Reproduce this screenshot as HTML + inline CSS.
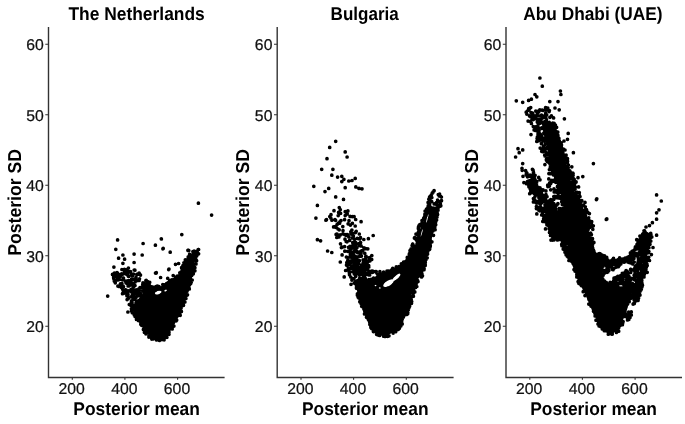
<!DOCTYPE html>
<html lang="en">
<head>
<meta charset="utf-8">
<title>Posterior mean vs posterior SD</title>
<style>
html,body{margin:0;padding:0;background:#fff;}
body{width:685px;height:424px;overflow:hidden;}
svg{display:block;}
text{font-family:"Liberation Sans",Arial,Helvetica,sans-serif;text-rendering:geometricPrecision;}
.tk{font-size:15.75px;fill:#111;stroke:#111;stroke-width:0.25;}
.lb{font-size:17.4px;font-weight:bold;fill:#000;}
.lb.yl{font-size:17.65px;}
.ax{fill:none;stroke:#333;stroke-width:1.4;}
.tc{fill:none;stroke:#333;stroke-width:1.1;}
.pt{fill:none;stroke:#000;stroke-width:3.70;stroke-linecap:round;}
</style>
</head>
<body>
<svg width="685" height="424" viewBox="0 0 685 424">
<rect width="685" height="424" fill="#fff"/>
<g fill="#000" stroke="none">
<path d="M144.0 283.0L148.8 284.5L158.3 287.5L167.8 283.5L176.5 277.0L183.0 268.0L187.0 258.0L190.0 254.0L195.0 259.0L194.5 268.0L190.0 285.0L185.0 300.0L180.0 313.0L174.0 325.5L168.0 334.5L162.5 339.5L157.3 340.8L153.5 339.5L150.0 336.5L143.5 329.5L138.0 320.0L133.5 311.0L135.0 303.0L142.0 295.0Z"/>
</g>
<ellipse cx="158.2" cy="292.6" rx="3.4" ry="1.6" fill="#fff" transform="rotate(-17.2 158.2 292.6)"/>
<ellipse cx="165.6" cy="290.5" rx="1.3" ry="0.9" fill="#fff" transform="rotate(-22.9 165.6 290.5)"/>
<path class="pt" d="M186.0 278.3h0M166.6 283.5h0M195.5 259.0h0M156.6 332.9h0M168.3 319.1h0M143.6 299.2h0M184.7 272.1h0M189.4 270.6h0M184.3 302.2h0M140.3 305.3h0M164.1 339.8h0M153.3 313.7h0M181.4 295.3h0M131.4 308.8h0M150.3 307.3h0M157.1 339.2h0M141.4 322.1h0M176.9 302.3h0M165.4 298.9h0M170.4 324.8h0M156.0 324.1h0M144.4 332.3h0M175.6 298.8h0M144.8 289.0h0M176.5 280.8h0M140.9 308.3h0M190.9 281.2h0M147.9 300.6h0M176.6 313.0h0M184.1 274.7h0M163.9 303.9h0M153.5 316.5h0M176.0 287.9h0M179.7 295.2h0M151.7 336.2h0M175.3 308.7h0M152.0 334.4h0M185.5 272.1h0M135.1 298.4h0M183.6 282.2h0M141.7 303.6h0M147.3 330.2h0M133.6 299.6h0M166.3 311.7h0M156.3 299.3h0M165.0 305.3h0M182.9 265.7h0M152.3 326.5h0M149.4 325.0h0M136.0 303.1h0M195.1 259.5h0M142.9 319.9h0M138.6 305.3h0M138.4 318.7h0M140.9 323.5h0M181.9 302.7h0M143.1 285.0h0M176.3 312.2h0M167.2 311.1h0M153.3 287.7h0M176.0 289.7h0M148.7 303.2h0M139.2 318.3h0M167.8 309.7h0M163.9 317.6h0M141.4 308.7h0M142.4 302.8h0M183.8 273.9h0M167.3 324.0h0M183.1 281.1h0M136.2 307.2h0M142.0 287.1h0M175.8 287.9h0M173.2 318.3h0M165.4 311.8h0M192.6 265.3h0M157.2 316.0h0M156.5 287.0h0M172.9 319.3h0M143.4 308.3h0M171.8 279.9h0M169.9 293.1h0M151.8 287.0h0M153.7 314.7h0M167.6 334.3h0M183.9 262.8h0M181.0 272.0h0M163.3 296.3h0M190.0 280.3h0M176.1 320.8h0M169.0 311.2h0M134.1 314.3h0M175.1 297.1h0M146.2 329.9h0M193.2 254.9h0M183.7 272.2h0M154.0 304.5h0M175.1 298.6h0M152.3 337.4h0M160.8 301.9h0M191.3 263.2h0M175.9 302.2h0M145.3 315.9h0M164.0 284.8h0M184.4 267.7h0M174.4 305.1h0M184.0 288.9h0M164.3 325.5h0M180.1 309.8h0M174.4 302.5h0M183.5 305.3h0M145.8 285.3h0M170.9 292.5h0M160.9 305.2h0M152.0 297.7h0M184.5 269.9h0M136.4 310.3h0M186.2 260.0h0M192.1 274.8h0M186.3 278.3h0M150.4 294.2h0M174.1 309.5h0M164.4 329.9h0M176.0 283.8h0M185.8 284.8h0M166.9 310.9h0M154.3 334.2h0M160.0 301.3h0M173.9 326.1h0M156.5 328.2h0M156.5 301.4h0M145.9 280.6h0M162.0 318.6h0M146.2 280.3h0M183.0 282.8h0M176.4 300.0h0M176.5 282.0h0M159.9 339.7h0M179.3 304.0h0M157.5 314.4h0M144.3 283.4h0M149.9 326.7h0M194.9 259.5h0M175.8 291.3h0M174.6 312.5h0M137.2 305.0h0M149.7 282.3h0M163.9 338.8h0M170.9 280.5h0M135.8 316.7h0M150.5 291.0h0M173.7 283.0h0M154.6 290.2h0M172.9 302.3h0M151.4 323.2h0M163.2 303.2h0M146.0 295.9h0M153.1 316.5h0M169.5 322.0h0M164.0 302.9h0M169.3 325.3h0M150.2 327.9h0M169.1 302.2h0M141.4 315.2h0M194.5 268.5h0M157.7 336.1h0M156.6 340.0h0M165.8 310.2h0M188.5 270.6h0M149.0 336.0h0M189.7 259.0h0M189.9 260.7h0M166.9 337.3h0M191.1 265.7h0M163.3 315.2h0M173.8 306.5h0M173.8 287.8h0M150.4 292.9h0M153.8 328.1h0M132.1 303.1h0M153.8 291.0h0M168.4 282.6h0M188.8 268.8h0M166.1 324.3h0M178.3 306.9h0M188.7 258.6h0M176.2 287.1h0M154.6 297.2h0M187.4 276.9h0M144.7 310.5h0M181.4 311.4h0M154.4 334.9h0M160.7 326.9h0M144.5 330.7h0M184.4 274.2h0M187.8 274.0h0M147.6 281.7h0M180.9 284.0h0M144.8 304.9h0M158.7 309.6h0M152.7 316.5h0M193.9 257.4h0M185.0 262.4h0M179.9 298.4h0M151.5 332.3h0M169.8 280.6h0M177.2 278.0h0M160.0 329.4h0M166.0 334.1h0M156.0 286.5h0M149.3 290.0h0M186.9 269.5h0M170.6 301.2h0M172.2 312.1h0M183.2 297.1h0M192.4 264.9h0M131.5 310.9h0M167.0 334.1h0M147.4 303.0h0M163.6 302.2h0M146.6 287.9h0M149.1 297.0h0M186.4 264.4h0M158.6 313.0h0M165.0 318.7h0M169.3 307.5h0M168.9 291.7h0M176.0 288.2h0M135.9 312.3h0M186.0 270.1h0M183.5 289.3h0M131.0 305.4h0M149.5 326.9h0M189.2 277.9h0M163.6 302.9h0M142.7 284.4h0M136.9 309.5h0M151.8 339.1h0M183.4 301.1h0M172.9 288.8h0M146.7 326.3h0M136.5 319.5h0M170.4 318.9h0M179.6 302.9h0M154.5 328.5h0M140.8 313.9h0M159.1 301.3h0M156.8 301.6h0M153.5 305.1h0M143.5 322.2h0M143.0 302.8h0M148.2 283.9h0M182.0 291.6h0M149.1 284.4h0M146.3 323.5h0M192.0 268.5h0M184.7 285.4h0M157.8 297.5h0M141.3 299.2h0M167.3 318.5h0M149.6 286.3h0M194.9 267.7h0M184.3 267.1h0M159.5 301.2h0M153.3 328.6h0M142.7 290.8h0M155.1 298.4h0M168.5 292.6h0M148.1 317.2h0M137.6 307.6h0M176.1 302.0h0M154.9 316.1h0M189.7 284.5h0M164.6 333.5h0M146.0 292.5h0M167.1 323.8h0M189.3 288.9h0M147.3 322.0h0M177.3 276.0h0M182.2 305.5h0M132.3 312.7h0M136.1 309.4h0M179.6 313.7h0M147.6 293.1h0M166.0 287.5h0M188.9 269.8h0M135.6 315.3h0M185.2 290.1h0M161.2 326.7h0M149.5 301.8h0M186.9 264.6h0M146.4 317.1h0M149.6 298.8h0M131.5 300.9h0M160.3 326.5h0M140.5 293.8h0M191.6 275.4h0M146.6 322.8h0M189.0 277.6h0M175.4 302.2h0M142.2 296.2h0M149.6 336.1h0M183.3 298.9h0M161.7 319.0h0M166.3 327.0h0M158.9 329.1h0M175.9 277.4h0M158.0 338.8h0M144.0 301.1h0M176.7 278.8h0M173.9 279.7h0M155.5 326.7h0M179.9 279.7h0M133.4 310.0h0M157.4 331.3h0M187.3 269.6h0M145.3 307.7h0M147.3 295.8h0M165.1 287.1h0M134.3 315.0h0M160.5 287.9h0M168.7 312.0h0M150.3 333.7h0M176.1 279.2h0M187.5 263.2h0M167.6 283.4h0M145.9 318.2h0M186.7 260.4h0M155.6 289.9h0M180.0 314.6h0M190.5 278.5h0M174.0 311.9h0M143.3 321.2h0M182.9 276.7h0M187.4 281.3h0M148.7 303.0h0M170.7 293.9h0M164.6 332.8h0M155.7 286.8h0M176.3 280.4h0M159.4 299.8h0M158.3 287.7h0M141.1 302.1h0M155.7 332.5h0M152.1 300.0h0M182.9 278.1h0M158.4 323.2h0M192.9 256.9h0M164.1 314.4h0M187.5 294.8h0M179.2 304.4h0M140.8 324.3h0M177.1 281.1h0M158.3 319.7h0M180.3 277.6h0M167.8 317.3h0M139.5 293.8h0M164.9 318.5h0M153.2 339.0h0M175.6 317.1h0M133.3 307.6h0M143.7 286.9h0M182.5 273.6h0M172.3 313.3h0M192.0 267.8h0M155.3 323.3h0M163.1 287.4h0M163.0 293.7h0M171.9 315.4h0M184.8 290.9h0M166.8 311.1h0M157.1 304.3h0M152.3 312.8h0M141.4 300.1h0M157.7 309.8h0M167.8 315.9h0M189.0 282.4h0M167.1 296.0h0M137.8 315.5h0M162.6 329.7h0M182.0 289.8h0M167.3 333.0h0M162.3 327.1h0M160.8 335.0h0M161.2 312.1h0M143.8 319.9h0M169.0 315.0h0M180.9 274.3h0M188.9 287.1h0M176.1 292.5h0M160.5 288.3h0M161.8 332.5h0M183.8 279.1h0M169.5 309.2h0M178.6 308.7h0M183.4 274.9h0M144.1 298.5h0M170.4 315.8h0M138.9 300.6h0M156.1 299.9h0M153.3 310.8h0M176.1 319.6h0M158.9 338.5h0M156.4 299.4h0M172.3 320.7h0M147.2 286.5h0M146.6 309.8h0M179.6 293.8h0M180.1 273.4h0M172.0 324.0h0M150.7 332.8h0M195.3 257.3h0M175.9 277.1h0M160.7 331.2h0M143.0 300.6h0M149.2 294.3h0M174.1 302.4h0M177.0 288.4h0M189.4 259.6h0M190.7 283.6h0M153.0 326.7h0M190.6 256.1h0M175.6 318.1h0M160.4 310.7h0M169.0 291.6h0M136.6 301.0h0M163.4 285.8h0M163.4 319.2h0M148.6 327.3h0M174.2 315.9h0M173.3 288.7h0M157.3 311.0h0M141.6 296.6h0M191.3 267.8h0M155.2 309.7h0M191.6 255.6h0M186.8 277.6h0M182.1 269.4h0M175.0 311.6h0M155.6 302.2h0M165.4 328.9h0M159.1 312.6h0M156.0 303.0h0M131.5 301.6h0M177.7 281.1h0M150.5 336.7h0M146.1 306.2h0M178.6 276.7h0M193.3 273.8h0M164.7 304.2h0M177.5 286.7h0M145.2 316.9h0M182.8 279.2h0M186.9 283.2h0M162.8 322.1h0M183.4 271.0h0M191.2 282.3h0M171.9 326.2h0M153.2 288.3h0M159.0 333.4h0M181.6 274.8h0M169.6 304.6h0M138.6 314.3h0M149.8 286.2h0M135.1 316.6h0M191.0 281.6h0M163.0 310.6h0M177.4 293.7h0M139.3 301.1h0M190.2 277.9h0M156.1 312.3h0M152.1 311.0h0M151.4 325.2h0M170.1 303.6h0M171.3 304.2h0M181.6 301.6h0M196.1 261.2h0M157.0 336.9h0M145.8 328.6h0M139.2 304.2h0M184.4 266.4h0M173.2 309.5h0M167.5 294.6h0M154.5 318.7h0M167.6 283.4h0M192.9 264.0h0M184.4 270.4h0M194.9 270.8h0M166.9 325.8h0M144.3 309.4h0M145.9 333.8h0M162.8 284.6h0M164.5 296.9h0M137.1 304.3h0M187.7 276.3h0M140.9 323.0h0M176.8 286.2h0M155.2 335.7h0M166.9 285.7h0M169.2 288.6h0M146.9 323.1h0M161.5 339.4h0M191.9 280.2h0M178.5 304.7h0M138.0 315.2h0M132.3 305.6h0M192.5 255.8h0M140.8 309.4h0M153.6 307.7h0M182.0 296.6h0M176.1 288.5h0M184.9 302.0h0M169.4 307.7h0M162.9 300.1h0M140.7 315.0h0M175.5 297.4h0M134.4 306.0h0M163.6 293.8h0M170.3 294.6h0M184.0 301.7h0M164.6 315.2h0M145.3 318.9h0M146.2 333.6h0M130.2 304.0h0M192.4 254.8h0M186.0 268.4h0M162.7 329.2h0M173.5 318.0h0M194.1 267.4h0M164.5 308.4h0M155.5 336.0h0M172.9 319.9h0M177.0 296.0h0M160.4 330.0h0M177.2 316.1h0M185.5 260.1h0M155.3 320.9h0M163.8 295.4h0M192.9 270.9h0M152.5 287.7h0M157.8 339.0h0M137.8 308.8h0M166.5 316.0h0M191.9 270.2h0M146.8 309.9h0M179.8 314.7h0M196.2 261.1h0M194.7 270.3h0M157.5 325.2h0M160.4 337.2h0M165.5 327.6h0M146.6 303.9h0M171.9 306.8h0M151.1 301.6h0M139.1 303.7h0M185.6 289.1h0M166.8 300.0h0M172.2 328.9h0M187.6 282.5h0M168.8 286.6h0M176.7 278.8h0M152.8 311.1h0M166.9 312.4h0M159.4 288.3h0M165.3 327.6h0M140.2 293.7h0M196.0 263.9h0M191.7 262.1h0M147.0 290.7h0M182.7 286.5h0M183.2 276.6h0M148.1 291.1h0M158.2 308.1h0M159.0 286.7h0M176.3 296.9h0M151.6 332.7h0M156.9 287.2h0M142.8 322.3h0M146.7 290.2h0M168.6 320.3h0M161.5 313.3h0M164.2 329.6h0M149.4 336.2h0M134.7 308.9h0M145.6 312.2h0M157.9 302.4h0M149.6 325.0h0M159.0 332.0h0M185.3 279.1h0M154.4 288.3h0M180.2 315.3h0M154.2 299.3h0M161.5 303.4h0M167.7 304.7h0M175.3 292.4h0M162.5 288.4h0M168.7 285.7h0M169.7 300.7h0M154.1 318.3h0M145.3 284.4h0M179.9 308.3h0M167.9 301.1h0M179.2 304.4h0M143.8 291.6h0M186.8 274.2h0M169.3 304.3h0M158.8 296.5h0M143.4 329.4h0M154.5 322.7h0M141.8 287.3h0M183.6 278.9h0M141.0 296.3h0M148.9 337.1h0M138.9 317.3h0M162.3 295.8h0M163.6 330.7h0M169.0 334.3h0M173.1 318.0h0M168.8 332.2h0M145.3 330.6h0M143.1 323.5h0M163.4 331.9h0M166.0 301.9h0M167.3 315.5h0M158.9 297.2h0M157.7 303.7h0M155.8 305.0h0M158.4 305.5h0M152.7 287.2h0M171.5 323.9h0M173.3 306.5h0M166.0 284.3h0M164.4 316.3h0M162.3 333.5h0M138.8 295.7h0M137.3 296.0h0M165.4 331.8h0M150.5 328.1h0M149.9 306.5h0M158.1 330.6h0M164.7 334.7h0M147.0 323.7h0M184.8 289.3h0M149.4 299.2h0M185.3 259.9h0M174.9 303.3h0M151.7 325.6h0M166.0 337.0h0M151.6 291.8h0M186.5 279.2h0M173.9 306.6h0M189.2 266.7h0M163.6 288.5h0M156.2 315.7h0M177.2 287.7h0M168.9 316.3h0M151.0 319.2h0M141.7 325.3h0M170.9 310.4h0M176.7 320.1h0M146.6 288.5h0M187.9 266.0h0M136.1 297.3h0M142.3 303.6h0M185.4 275.2h0M189.3 267.6h0M142.8 315.1h0M174.3 316.5h0M181.0 303.3h0M152.0 312.7h0M172.8 290.7h0M176.1 317.6h0M177.5 309.1h0M151.0 297.6h0M185.0 263.0h0M147.1 319.7h0M188.8 259.5h0M181.9 272.9h0M192.3 259.7h0M145.3 327.8h0M166.5 295.8h0M167.4 316.8h0M145.9 307.4h0M184.8 284.1h0M151.0 292.5h0M150.5 313.2h0M151.5 295.7h0M182.1 305.5h0M143.0 315.3h0M166.2 295.1h0M139.0 307.9h0M161.2 316.7h0M179.8 272.8h0M166.4 331.4h0M181.5 298.4h0M188.2 256.9h0M185.9 298.4h0M187.7 260.4h0M181.1 308.0h0M154.2 328.2h0M186.3 295.5h0M169.4 317.2h0M184.5 277.2h0M156.2 322.2h0M159.0 287.0h0M153.1 323.1h0M161.0 309.3h0M160.4 306.6h0M157.5 323.0h0M148.7 294.7h0M163.9 331.5h0M175.2 307.3h0M187.4 289.7h0M157.3 325.0h0M134.7 308.4h0M144.6 311.1h0M163.6 302.4h0M167.9 318.4h0M143.7 319.6h0M192.2 280.0h0M149.6 303.4h0M134.4 305.5h0M171.4 295.6h0M176.1 283.7h0M178.0 310.1h0M182.2 278.4h0M149.8 297.3h0M179.8 276.7h0M155.8 320.5h0M180.3 297.2h0M187.0 291.2h0M166.2 317.0h0M168.7 301.8h0M151.5 287.2h0M135.9 308.7h0M189.0 258.3h0M181.6 267.7h0M153.2 320.1h0M151.8 325.2h0M164.2 327.0h0M149.0 302.4h0M171.2 323.6h0M151.3 289.2h0M155.3 287.9h0M193.0 265.1h0M172.5 296.7h0M162.8 310.0h0M168.4 312.9h0M144.9 321.1h0M138.5 320.6h0M160.9 335.7h0M141.0 315.3h0M149.1 317.3h0M164.8 316.0h0M163.0 327.4h0M169.2 304.0h0M164.9 326.5h0M152.6 289.8h0M160.9 327.6h0M179.6 291.4h0M190.4 255.4h0M158.2 301.4h0M188.5 270.9h0M150.9 329.4h0M157.9 319.7h0M137.1 316.6h0M162.0 339.6h0M157.4 286.0h0M149.6 297.2h0M188.1 270.5h0M178.0 285.7h0M150.4 286.5h0M178.4 303.1h0M185.6 297.0h0M187.6 264.1h0M162.2 294.9h0M159.9 304.1h0M156.0 327.7h0M163.9 301.3h0M158.6 325.1h0M134.6 314.0h0M166.7 322.1h0M177.1 280.9h0M177.6 312.2h0M184.5 276.4h0M167.5 283.3h0M168.3 304.4h0M161.8 294.7h0M151.0 291.1h0M170.0 314.9h0M175.5 295.2h0M160.1 335.9h0M146.3 330.1h0M176.2 314.4h0M176.4 303.2h0M176.1 278.2h0M171.3 284.3h0M161.2 333.8h0M184.3 265.7h0M143.8 322.4h0M169.0 332.2h0M171.8 323.5h0M167.7 323.2h0M177.0 299.5h0M145.1 303.5h0M190.1 259.4h0M143.4 283.1h0M180.1 294.0h0M144.1 311.5h0M165.2 286.8h0M159.6 340.4h0M144.6 313.2h0M164.4 326.7h0M152.4 321.6h0M154.7 333.6h0M181.1 300.5h0M192.0 257.3h0M151.1 319.8h0M149.1 285.3h0M189.9 283.0h0M165.0 334.2h0M192.6 254.9h0M181.6 290.5h0M165.7 327.5h0M179.1 298.7h0M137.2 315.7h0M144.8 309.5h0M142.9 310.5h0M176.2 313.1h0M157.3 326.5h0M147.3 328.5h0M180.3 277.5h0M189.6 254.3h0M149.5 304.8h0M158.2 296.9h0M135.6 305.0h0M152.8 300.6h0M185.8 279.9h0M175.4 278.6h0M165.3 333.5h0M156.8 307.0h0M166.4 301.7h0M147.8 331.8h0M129.3 304.5h0M137.6 313.8h0M180.2 311.1h0M155.7 334.4h0M143.0 282.8h0M180.4 303.8h0M172.3 322.8h0M122.8 286.1h0M134.2 289.9h0M127.1 299.6h0M137.7 291.6h0M124.4 271.0h0M122.8 274.1h0M138.9 288.8h0M122.5 279.8h0M118.6 276.0h0M133.1 287.3h0M114.4 273.1h0M125.6 290.3h0M137.0 290.6h0M120.3 286.3h0M139.5 278.8h0M139.7 290.3h0M117.4 273.0h0M129.4 290.9h0M128.4 276.2h0M123.3 293.4h0M124.4 269.3h0M131.3 273.9h0M139.1 280.4h0M126.9 295.7h0M128.4 271.8h0M125.1 269.8h0M138.9 291.2h0M119.4 274.7h0M134.3 279.4h0M140.0 287.7h0M125.3 290.5h0M127.5 295.7h0M121.6 273.8h0M131.0 289.6h0M113.6 277.8h0M133.6 286.7h0M135.1 282.0h0M120.4 283.9h0M125.4 281.2h0M123.5 278.0h0M140.5 275.1h0M117.0 273.3h0M116.0 273.8h0M119.5 279.5h0M117.9 280.0h0M136.2 279.3h0M135.0 285.6h0M124.2 293.1h0M117.6 278.2h0M127.6 292.4h0M122.5 293.7h0M131.8 292.1h0M117.0 272.5h0M126.3 274.1h0M130.9 296.8h0M132.4 276.0h0M131.3 282.4h0M130.8 284.8h0M115.3 282.8h0M132.0 297.1h0M136.9 292.0h0M134.2 270.0h0M128.9 276.3h0M121.9 283.6h0M121.9 269.5h0M126.4 281.2h0M138.0 274.1h0M134.9 270.2h0M136.3 280.8h0M123.1 290.3h0M128.2 298.6h0M129.1 272.0h0M127.4 294.4h0M132.3 294.9h0M128.7 284.7h0M128.6 284.4h0M127.7 283.9h0M117.4 279.7h0M127.5 274.8h0M128.4 268.1h0M116.3 276.4h0M125.4 289.8h0M122.6 289.2h0M113.7 276.6h0M134.6 293.8h0M114.3 281.1h0M122.5 287.3h0M134.9 292.0h0M123.6 292.9h0M113.8 278.6h0M136.9 274.3h0M128.3 290.9h0M113.9 279.0h0M129.0 285.9h0M131.5 279.3h0M112.5 274.4h0M128.6 284.4h0M133.5 289.5h0M140.0 274.6h0M118.9 286.4h0M125.7 271.2h0M134.0 294.3h0M133.5 274.0h0M125.0 273.5h0M136.6 293.3h0M129.6 284.0h0M128.1 286.0h0M121.6 287.4h0M133.2 296.2h0M126.1 290.1h0M119.3 275.4h0M136.3 289.8h0M120.2 276.6h0M139.1 273.1h0M132.5 293.0h0M128.0 294.3h0M132.5 283.6h0M134.3 285.6h0M126.1 269.9h0M121.9 274.7h0M117.9 286.1h0M130.5 271.6h0M136.1 277.1h0M128.6 280.7h0M131.7 291.9h0M131.3 290.9h0M123.5 286.6h0M126.1 282.9h0M195.2 259.0h0M195.7 260.5h0M195.8 259.3h0M197.2 251.2h0M194.3 255.7h0M194.1 251.0h0M195.3 253.0h0M187.9 250.3h0M196.5 261.1h0M198.6 249.5h0M188.0 250.4h0M196.6 260.7h0M188.5 250.3h0M194.0 255.7h0M197.8 253.4h0M196.7 255.9h0M198.6 253.8h0M195.1 258.9h0M192.9 251.6h0M188.8 250.6h0M198.2 249.6h0M196.1 260.9h0M117.6 239.9h0M115.8 249.3h0M122.9 255.0h0M118.6 258.2h0M124.6 259.2h0M122.9 263.3h0M113.9 267.1h0M134.1 254.1h0M134.1 262.5h0M142.2 255.0h0M143.1 243.5h0M155.4 245.2h0M161.4 239.0h0M162.9 248.8h0M156.3 272.7h0M107.7 296.1h0M127.9 312.0h0M198.4 203.2h0M211.6 215.1h0M181.8 234.6h0M161.3 238.8h0M163.2 248.4h0M170.2 252.2h0M175.5 264.3h0M168.7 269.6h0M155.9 273.2h0M160.6 277.5h0M155.5 273.0h0M169.0 269.0h0M173.2 275.6h0M178.6 263.5h0M167.7 278.3h0"/>
<path class="ax" d="M48.5 27.0V377.5H224.6"/>
<path class="tc" d="M48.5 326.2h-3.2M48.5 255.7h-3.2M48.5 185.2h-3.2M48.5 114.7h-3.2M48.5 44.2h-3.2M72.3 377.5v2.3M124.9 377.5v2.3M177.6 377.5v2.3"/>
<text class="tk" transform="translate(43.7 332.1) scale(1 0.990)" text-anchor="end">20</text>
<text class="tk" transform="translate(43.7 261.6) scale(1 0.990)" text-anchor="end">30</text>
<text class="tk" transform="translate(43.7 191.1) scale(1 0.990)" text-anchor="end">40</text>
<text class="tk" transform="translate(43.7 120.6) scale(1 0.990)" text-anchor="end">50</text>
<text class="tk" transform="translate(43.7 50.1) scale(1 0.990)" text-anchor="end">60</text>
<text class="tk" transform="translate(71.7 394.4) scale(1 0.990)" text-anchor="middle">200</text>
<text class="tk" transform="translate(124.3 394.4) scale(1 0.990)" text-anchor="middle">400</text>
<text class="tk" transform="translate(177.0 394.4) scale(1 0.990)" text-anchor="middle">600</text>
<text class="lb" style="font-size:17.40px" transform="translate(136.6 19.8) scale(1 1.060)" text-anchor="middle">The Netherlands</text>
<text class="lb" transform="translate(136.6 414.75) scale(1 1.060)" text-anchor="middle">Posterior mean</text>
<text class="lb yl" transform="translate(20.6 202.4) rotate(-90) scale(1 1.060)" text-anchor="middle">Posterior SD</text>
<g fill="#000" stroke="none">
<path d="M355.0 284.0L359.0 298.0L364.0 312.5L369.0 325.0L375.5 332.5L384.6 334.5L392.0 331.5L399.5 323.5L405.5 311.5L411.5 295.0L417.5 279.5L421.2 276.0L428.3 251.5L435.2 226.0L437.5 210.0L427.5 211.0L419.5 230.5L412.5 253.5L405.5 262.0L399.0 266.0L391.5 269.5L384.0 272.5L376.0 272.5L370.5 279.0L364.0 279.0L358.0 280.0Z"/>
</g>
<ellipse cx="388.5" cy="283.2" rx="6.0" ry="2.6" fill="#fff" transform="rotate(-31.5 388.5 283.2)"/>
<ellipse cx="396.5" cy="277.3" rx="5.0" ry="1.7" fill="#fff" transform="rotate(-43.0 396.5 277.3)"/>
<ellipse cx="374.2" cy="275.3" rx="2.2" ry="1.3" fill="#fff" transform="rotate(5.7 374.2 275.3)"/>
<ellipse cx="375.5" cy="285.5" rx="0.9" ry="0.7" fill="#fff" transform="rotate(0.0 375.5 285.5)"/>
<ellipse cx="379.8" cy="288.0" rx="0.9" ry="0.7" fill="#fff" transform="rotate(0.0 379.8 288.0)"/>
<ellipse cx="427.3" cy="218.5" rx="4.5" ry="0.5" fill="#fff" transform="rotate(-76.2 427.3 218.5)"/>
<ellipse cx="421.7" cy="233.0" rx="3.8" ry="0.4" fill="#fff" transform="rotate(-74.5 421.7 233.0)"/>
<path class="pt" d="M403.4 287.8h0M374.9 302.7h0M400.5 321.9h0M427.2 251.7h0M365.5 309.8h0M379.2 290.6h0M416.0 260.9h0M372.7 310.8h0M429.4 249.5h0M419.3 257.3h0M426.8 254.5h0M422.0 248.2h0M367.8 311.5h0M419.2 251.2h0M422.5 258.8h0M394.6 270.2h0M396.5 285.4h0M391.1 325.8h0M402.7 315.5h0M418.4 232.1h0M373.2 312.6h0M401.0 315.2h0M430.9 221.2h0M368.2 304.6h0M390.8 302.6h0M429.7 221.8h0M404.0 313.1h0M367.7 316.1h0M408.9 295.9h0M359.2 274.8h0M378.1 321.0h0M365.4 278.7h0M360.6 281.8h0M428.9 210.0h0M369.2 314.6h0M409.0 297.3h0M419.1 261.8h0M437.0 216.1h0M358.7 297.8h0M369.8 305.7h0M368.9 272.5h0M418.8 237.7h0M407.6 284.5h0M433.0 230.5h0M362.3 304.5h0M384.0 310.6h0M371.8 296.9h0M385.1 332.0h0M356.5 288.2h0M378.3 313.9h0M372.3 319.9h0M387.3 323.1h0M376.5 296.9h0M374.2 278.5h0M402.7 270.0h0M412.7 244.1h0M364.8 277.2h0M368.5 304.3h0M404.2 271.6h0M378.1 330.7h0M368.3 319.2h0M375.0 305.0h0M388.5 302.7h0M412.5 257.3h0M418.5 226.9h0M371.7 328.6h0M389.7 293.0h0M360.2 298.3h0M383.7 324.8h0M408.4 262.4h0M374.1 290.2h0M404.9 280.5h0M404.3 294.7h0M377.2 307.3h0M416.7 240.3h0M401.0 281.2h0M361.3 299.3h0M360.7 301.9h0M375.9 317.2h0M421.9 238.7h0M371.7 294.8h0M390.4 326.2h0M394.0 273.4h0M385.6 315.9h0M402.8 277.5h0M401.7 320.9h0M406.2 272.6h0M412.7 244.1h0M385.0 320.1h0M369.7 321.8h0M397.0 291.5h0M407.4 268.3h0M409.1 269.2h0M380.5 309.6h0M369.7 305.2h0M397.9 270.4h0M396.8 324.7h0M409.5 303.9h0M375.3 322.1h0M380.1 282.6h0M425.1 211.0h0M385.0 318.0h0M425.4 243.0h0M406.8 296.0h0M374.0 302.5h0M434.8 227.1h0M401.8 323.3h0M387.5 325.6h0M395.7 297.2h0M382.7 306.1h0M362.6 289.3h0M406.8 269.2h0M401.5 321.0h0M388.0 277.6h0M418.2 263.7h0M413.7 290.3h0M415.8 275.8h0M377.9 312.5h0M423.2 247.8h0M421.3 240.7h0M430.8 223.4h0M431.5 235.0h0M371.3 297.5h0M405.8 262.2h0M379.2 296.9h0M388.6 271.1h0M365.7 311.1h0M421.6 239.3h0M369.7 315.5h0M400.7 303.4h0M363.1 306.9h0M394.1 300.3h0M383.3 328.6h0M378.6 284.6h0M377.4 333.4h0M416.3 281.8h0M374.9 323.4h0M407.6 264.1h0M364.9 292.7h0M425.2 264.2h0M394.8 290.9h0M399.4 328.2h0M395.7 330.3h0M432.1 212.6h0M405.1 265.6h0M370.3 295.2h0M381.0 318.3h0M405.2 269.6h0M399.3 287.5h0M400.9 317.7h0M361.2 303.7h0M429.5 234.7h0M375.5 282.8h0M435.1 229.7h0M392.6 269.0h0M387.8 334.9h0M415.1 268.6h0M430.3 245.8h0M381.6 298.9h0M393.2 290.6h0M398.4 320.4h0M408.1 291.0h0M395.6 287.0h0M396.3 266.9h0M401.3 263.9h0M379.9 271.7h0M428.5 209.9h0M429.8 248.8h0M385.6 292.7h0M372.6 271.1h0M367.5 304.4h0M394.9 313.0h0M408.0 305.1h0M403.2 274.6h0M396.9 295.4h0M373.0 306.4h0M426.5 229.7h0M376.9 282.4h0M423.6 240.7h0M392.3 300.2h0M381.3 284.3h0M375.1 315.1h0M411.3 274.5h0M423.7 239.8h0M372.5 272.3h0M435.7 224.7h0M391.8 304.7h0M400.7 292.2h0M426.9 233.7h0M365.3 306.2h0M389.5 331.0h0M417.4 276.3h0M403.4 283.7h0M357.2 284.1h0M411.1 248.8h0M388.6 291.3h0M427.2 208.7h0M406.8 286.8h0M427.4 252.4h0M368.3 287.9h0M405.1 300.0h0M410.7 280.7h0M363.3 278.4h0M419.1 230.6h0M413.3 290.7h0M378.1 306.1h0M408.1 300.1h0M423.7 218.2h0M383.3 308.5h0M402.2 319.3h0M415.4 254.0h0M391.7 269.9h0M411.8 251.2h0M392.0 295.6h0M366.5 317.2h0M370.8 287.3h0M410.2 303.4h0M378.7 283.2h0M410.0 274.7h0M368.9 295.1h0M367.5 291.8h0M373.1 289.4h0M411.5 303.3h0M381.5 279.2h0M390.9 304.1h0M429.4 222.9h0M414.9 265.1h0M379.0 316.3h0M367.1 300.6h0M363.0 303.0h0M421.4 252.5h0M427.0 236.2h0M405.1 276.9h0M411.7 259.3h0M405.8 298.7h0M380.3 322.6h0M373.7 293.8h0M387.0 293.6h0M368.2 314.0h0M433.4 229.8h0M425.2 231.9h0M408.6 299.7h0M397.2 304.1h0M358.5 295.6h0M420.9 251.5h0M369.1 308.4h0M432.4 215.9h0M417.6 280.6h0M425.9 241.3h0M371.2 308.1h0M386.4 313.6h0M377.0 311.7h0M371.0 290.1h0M385.0 324.7h0M411.6 272.9h0M400.3 266.5h0M434.5 214.2h0M381.4 280.8h0M377.8 291.2h0M366.9 300.0h0M412.4 264.7h0M359.3 292.8h0M363.6 273.1h0M370.2 302.3h0M363.3 295.1h0M369.7 274.9h0M383.4 280.9h0M398.5 305.5h0M418.4 228.0h0M414.2 269.4h0M424.6 216.7h0M385.8 322.7h0M398.6 296.7h0M391.6 319.9h0M388.7 295.5h0M366.2 300.9h0M416.2 283.8h0M379.2 295.5h0M401.9 318.6h0M388.6 303.7h0M371.5 319.8h0M435.0 223.0h0M424.2 259.2h0M358.1 280.3h0M381.9 301.2h0M401.6 270.2h0M406.2 275.1h0M389.6 297.1h0M359.8 298.1h0M406.0 284.4h0M425.2 265.5h0M380.2 305.5h0M393.9 287.4h0M365.7 298.1h0M423.0 246.2h0M430.6 210.3h0M412.8 288.9h0M417.6 273.6h0M387.7 325.1h0M356.5 287.3h0M421.7 250.8h0M402.2 269.9h0M391.3 331.5h0M381.9 315.1h0M428.8 210.3h0M410.8 277.4h0M359.5 274.7h0M424.2 256.6h0M426.4 232.5h0M438.0 208.4h0M392.8 274.0h0M364.6 302.5h0M359.7 291.8h0M417.4 262.0h0M379.8 304.7h0M373.8 331.3h0M408.1 261.6h0M376.3 314.1h0M364.0 297.6h0M383.4 302.0h0M408.4 309.4h0M407.6 258.9h0M427.6 228.2h0M368.3 289.2h0M382.3 321.4h0M407.2 276.6h0M401.6 300.6h0M422.7 241.4h0M405.8 303.7h0M377.3 331.6h0M381.3 305.7h0M425.0 247.1h0M425.3 262.2h0M414.3 264.0h0M397.8 284.7h0M381.8 303.6h0M382.1 307.3h0M372.7 294.2h0M389.6 301.3h0M371.3 283.2h0M431.0 227.8h0M388.1 327.4h0M406.9 274.9h0M409.1 305.6h0M406.3 279.1h0M404.8 298.8h0M418.8 234.8h0M378.1 295.7h0M390.9 271.6h0M380.1 302.1h0M395.7 302.1h0M411.8 266.6h0M407.7 313.7h0M373.1 290.2h0M363.9 306.7h0M415.2 251.6h0M405.5 289.2h0M400.2 271.3h0M382.7 276.7h0M434.7 222.0h0M388.0 325.7h0M369.2 293.7h0M364.6 276.0h0M394.3 324.9h0M422.5 262.9h0M377.0 318.3h0M384.2 316.6h0M366.6 295.8h0M421.7 244.7h0M384.8 320.0h0M406.9 273.2h0M386.4 333.0h0M407.6 271.0h0M413.6 250.8h0M366.9 306.5h0M376.4 321.4h0M419.8 224.7h0M373.6 308.0h0M398.5 312.3h0M363.4 298.5h0M379.1 306.0h0M360.6 278.5h0M434.4 225.8h0M428.9 228.2h0M406.5 289.1h0M386.6 323.7h0M413.8 286.1h0M379.3 278.2h0M373.8 301.4h0M403.9 277.5h0M434.2 219.2h0M403.1 308.5h0M403.8 310.3h0M398.3 329.3h0M356.7 283.7h0M421.9 273.8h0M425.4 213.2h0M395.7 331.7h0M361.3 294.1h0M421.3 251.8h0M406.3 307.0h0M399.5 301.8h0M393.4 290.8h0M423.7 257.3h0M420.2 264.4h0M414.5 268.6h0M369.4 312.3h0M371.5 308.9h0M364.9 279.7h0M414.4 238.1h0M365.6 286.1h0M402.6 286.9h0M435.6 221.9h0M367.5 297.4h0M390.6 316.8h0M424.2 252.4h0M399.8 298.2h0M396.3 301.1h0M406.0 309.1h0M412.0 262.8h0M421.0 249.2h0M365.0 274.6h0M433.2 213.8h0M389.0 288.9h0M396.9 287.2h0M429.7 241.2h0M419.2 257.4h0M398.5 269.6h0M376.9 298.9h0M417.9 274.0h0M398.9 266.5h0M356.4 285.4h0M392.7 269.3h0M399.2 313.7h0M380.6 299.5h0M424.1 268.7h0M402.4 305.2h0M414.7 264.5h0M383.9 299.4h0M389.0 317.1h0M431.7 212.1h0M403.4 290.5h0M359.6 289.0h0M367.3 311.0h0M407.2 276.0h0M392.5 324.6h0M383.2 315.4h0M418.2 252.1h0M390.0 292.1h0M424.0 264.5h0M407.9 309.5h0M408.5 284.1h0M363.9 308.9h0M367.7 300.1h0M396.6 308.5h0M430.5 219.6h0M400.3 270.0h0M393.6 309.4h0M366.7 273.9h0M357.3 287.7h0M402.5 285.2h0M359.1 280.9h0M413.0 292.9h0M390.8 326.2h0M368.0 296.5h0M384.8 294.8h0M425.3 251.6h0M392.1 326.9h0M390.1 313.1h0M400.9 292.7h0M409.3 254.2h0M363.7 283.8h0M427.7 238.7h0M367.8 309.4h0M382.2 307.4h0M402.5 269.0h0M410.6 296.7h0M418.0 281.6h0M394.8 285.3h0M421.5 243.7h0M369.9 324.5h0M411.9 263.8h0M394.1 284.7h0M392.9 323.0h0M405.9 279.7h0M385.9 318.0h0M380.7 275.3h0M389.4 299.7h0M409.1 298.4h0M415.1 247.9h0M378.8 296.5h0M410.9 279.1h0M378.6 333.1h0M367.0 306.6h0M367.1 317.2h0M421.6 276.9h0M418.6 266.3h0M423.5 219.2h0M401.3 318.7h0M392.9 304.7h0M427.8 251.3h0M378.7 317.8h0M396.5 291.4h0M406.8 290.8h0M358.4 282.3h0M364.5 277.4h0M406.2 297.2h0M431.9 241.8h0M430.1 244.5h0M397.5 296.2h0M364.1 275.6h0M409.4 253.7h0M370.8 310.6h0M400.2 290.3h0M422.8 239.8h0M377.7 281.0h0M380.9 275.9h0M389.8 311.9h0M423.9 247.6h0M400.7 312.0h0M387.5 271.7h0M363.4 276.8h0M397.7 317.4h0M400.8 289.5h0M386.3 294.2h0M380.5 315.2h0M376.0 279.0h0M389.3 296.1h0M361.7 306.2h0M426.2 236.8h0M377.9 300.2h0M427.1 244.8h0M410.4 264.8h0M426.5 241.1h0M405.8 304.0h0M377.5 308.5h0M427.5 238.2h0M395.9 330.7h0M401.0 268.9h0M364.3 295.6h0M406.3 292.3h0M371.7 280.0h0M376.6 334.3h0M387.0 332.9h0M391.8 273.9h0M429.0 222.9h0M362.9 305.9h0M403.4 305.5h0M406.1 278.9h0M365.3 311.3h0M360.3 300.0h0M386.4 311.8h0M409.3 261.9h0M436.0 215.9h0M408.1 274.4h0M422.5 275.8h0M377.6 296.9h0M364.6 279.1h0M401.8 305.8h0M395.3 287.0h0M367.0 312.4h0M394.5 316.6h0M427.8 230.2h0M402.2 268.6h0M419.5 245.5h0M417.9 271.3h0M370.4 308.9h0M367.7 307.8h0M405.3 310.6h0M393.5 323.8h0M375.4 305.3h0M412.8 244.2h0M421.0 261.8h0M419.3 245.7h0M371.6 299.7h0M379.2 277.8h0M394.4 295.8h0M415.6 249.2h0M410.7 270.2h0M378.1 335.0h0M374.7 296.6h0M383.6 272.2h0M375.8 280.9h0M403.9 304.4h0M425.8 215.5h0M362.7 294.2h0M382.0 316.5h0M415.5 287.5h0M384.5 312.1h0M393.7 301.7h0M419.8 273.6h0M374.2 329.7h0M366.4 295.5h0M361.8 285.6h0M368.9 279.7h0M404.3 290.0h0M409.2 257.4h0M412.1 251.4h0M435.4 216.1h0M401.1 304.8h0M384.4 322.3h0M409.6 306.3h0M363.6 278.3h0M383.5 335.3h0M383.4 279.8h0M399.1 305.2h0M413.9 262.9h0M363.0 306.9h0M423.3 236.5h0M364.2 278.1h0M416.5 254.9h0M418.2 261.4h0M385.0 308.5h0M388.1 298.4h0M388.1 272.3h0M430.9 207.7h0M405.8 303.8h0M376.9 315.7h0M405.3 299.9h0M400.0 316.8h0M421.3 261.2h0M372.6 271.4h0M404.4 289.7h0M357.3 280.9h0M377.4 292.4h0M432.3 216.1h0M415.7 281.5h0M394.7 304.8h0M396.9 281.7h0M428.0 245.7h0M392.7 268.4h0M390.3 271.0h0M426.0 259.6h0M414.5 277.0h0M391.6 272.0h0M407.0 300.1h0M376.6 290.6h0M412.1 277.3h0M412.8 274.4h0M400.0 324.1h0M382.7 314.6h0M370.3 298.6h0M415.5 272.2h0M371.9 307.0h0M434.0 217.3h0M423.0 247.7h0M406.2 286.6h0M379.4 275.0h0M397.1 289.0h0M370.2 272.6h0M423.4 238.8h0M422.1 222.4h0M368.3 299.8h0M394.1 321.8h0M420.5 270.0h0M406.5 284.1h0M414.7 285.4h0M410.3 265.5h0M399.2 267.1h0M420.8 246.6h0M403.9 270.2h0M378.0 326.3h0M370.9 327.6h0M387.0 271.0h0M417.5 257.6h0M400.7 318.6h0M379.0 328.4h0M419.7 244.3h0M420.0 264.1h0M362.4 287.3h0M383.6 336.2h0M433.9 212.2h0M413.4 280.6h0M398.9 299.1h0M390.9 272.9h0M387.4 322.9h0M384.4 293.8h0M387.7 336.3h0M367.4 317.5h0M364.6 310.6h0M403.6 303.5h0M387.2 272.8h0M413.4 296.2h0M399.4 296.0h0M383.6 301.2h0M419.0 225.7h0M406.1 300.1h0M360.8 291.3h0M401.0 278.1h0M392.2 291.7h0M379.3 323.1h0M403.4 317.1h0M363.6 274.5h0M395.9 284.9h0M367.8 281.0h0M378.4 299.1h0M385.5 336.3h0M433.2 208.1h0M405.1 289.1h0M383.0 313.1h0M398.0 291.9h0M419.5 247.8h0M377.0 298.0h0M391.5 302.3h0M392.0 274.0h0M401.7 276.9h0M411.2 299.5h0M381.0 319.0h0M407.6 269.1h0M409.7 290.1h0M390.7 298.4h0M429.6 239.8h0M396.8 271.1h0M357.4 295.2h0M402.0 264.7h0M372.9 315.9h0M377.0 330.9h0M406.7 310.3h0M414.8 291.9h0M417.4 243.2h0M425.6 235.8h0M358.1 297.1h0M373.6 324.3h0M400.7 301.2h0M393.7 309.3h0M380.7 334.0h0M372.0 302.2h0M431.9 228.3h0M365.9 274.2h0M362.5 280.0h0M437.0 217.0h0M410.8 255.4h0M425.5 247.0h0M367.7 299.9h0M397.3 318.7h0M397.1 314.1h0M375.2 271.6h0M364.3 299.3h0M398.4 318.2h0M400.1 285.8h0M413.6 245.9h0M420.2 261.1h0M412.6 246.0h0M412.9 259.1h0M407.2 297.1h0M365.7 304.7h0M407.9 262.1h0M394.0 331.8h0M361.6 273.9h0M386.1 295.0h0M385.0 279.7h0M430.1 246.5h0M431.6 217.8h0M360.8 303.1h0M388.5 315.4h0M360.5 301.7h0M395.2 304.2h0M380.3 273.9h0M370.6 294.3h0M403.2 308.3h0M429.6 218.8h0M409.5 259.2h0M420.2 269.3h0M387.3 273.2h0M413.5 249.5h0M427.2 242.6h0M401.0 300.0h0M358.9 289.7h0M398.9 321.2h0M366.1 312.7h0M383.3 301.9h0M419.4 260.3h0M422.4 267.9h0M415.7 254.8h0M434.3 218.4h0M412.1 279.5h0M394.0 329.9h0M429.4 224.7h0M366.1 313.4h0M410.2 270.4h0M356.7 281.1h0M406.5 310.1h0M386.8 314.7h0M391.6 272.4h0M383.0 305.5h0M397.7 289.6h0M380.1 311.3h0M415.7 281.5h0M399.2 324.9h0M374.0 331.3h0M409.8 287.2h0M396.0 305.8h0M416.4 238.5h0M430.6 223.6h0M392.6 293.7h0M384.3 323.3h0M413.4 251.9h0M425.5 254.7h0M389.7 332.1h0M372.1 301.6h0M363.4 307.3h0M427.6 254.1h0M411.9 285.4h0M397.3 316.5h0M384.6 292.0h0M413.4 250.4h0M392.3 316.6h0M367.9 317.1h0M357.4 293.9h0M397.7 290.9h0M390.2 304.5h0M381.4 311.9h0M407.3 257.4h0M402.2 283.8h0M367.5 306.9h0M427.2 257.8h0M411.5 263.4h0M396.0 285.0h0M408.2 282.3h0M426.5 209.1h0M386.6 334.2h0M399.7 284.0h0M380.7 313.5h0M404.7 274.6h0M368.9 271.1h0M373.6 315.2h0M429.8 245.1h0M414.8 279.1h0M417.3 268.5h0M388.6 293.5h0M380.8 321.4h0M412.1 245.5h0M424.6 249.4h0M418.9 226.7h0M416.0 266.5h0M369.6 300.7h0M370.7 326.1h0M368.8 274.7h0M356.2 283.0h0M359.3 294.5h0M373.5 331.7h0M417.7 252.8h0M401.9 270.7h0M389.9 322.2h0M387.1 320.9h0M394.9 302.3h0M418.5 244.7h0M386.6 292.8h0M405.5 300.6h0M393.8 274.7h0M362.1 293.5h0M408.3 285.2h0M417.1 250.5h0M401.3 295.3h0M424.1 234.5h0M416.3 266.3h0M368.5 301.2h0M397.0 294.4h0M401.7 294.0h0M365.2 293.2h0M416.0 267.0h0M432.3 216.2h0M387.2 276.0h0M373.9 297.2h0M365.3 286.7h0M423.9 227.4h0M409.4 302.5h0M385.3 314.7h0M412.1 275.3h0M360.3 291.2h0M406.7 314.5h0M413.1 293.7h0M380.6 299.2h0M415.3 268.8h0M430.0 210.0h0M420.7 265.4h0M373.6 291.9h0M372.4 292.7h0M364.2 293.5h0M406.1 287.3h0M431.2 233.0h0M433.9 224.1h0M435.1 210.6h0M384.0 274.4h0M419.7 261.6h0M392.3 316.9h0M371.9 280.5h0M389.0 335.8h0M409.3 266.1h0M414.7 258.9h0M427.7 243.2h0M381.6 305.6h0M427.0 213.0h0M362.2 300.9h0M400.6 315.9h0M387.3 330.3h0M378.2 291.0h0M391.8 301.4h0M423.4 263.9h0M383.9 276.5h0M419.3 230.1h0M416.3 259.5h0M428.2 226.0h0M394.9 308.1h0M429.8 221.0h0M410.4 273.5h0M387.0 303.4h0M389.6 321.6h0M394.6 269.5h0M363.3 286.8h0M386.1 326.3h0M388.3 292.2h0M371.4 322.2h0M397.6 320.2h0M395.7 287.4h0M418.1 244.1h0M423.8 251.3h0M405.7 304.5h0M414.1 282.9h0M369.9 319.3h0M366.3 312.7h0M417.6 253.0h0M425.1 213.8h0M379.6 335.4h0M372.0 320.8h0M426.8 212.4h0M415.7 246.5h0M422.1 252.8h0M393.0 274.4h0M401.8 268.4h0M392.1 323.0h0M365.2 294.4h0M394.5 293.5h0M392.1 308.2h0M411.6 284.1h0M405.2 270.7h0M410.9 271.9h0M385.4 314.2h0M398.2 329.4h0M400.2 304.3h0M401.1 315.7h0M421.0 225.7h0M428.8 231.0h0M425.2 254.2h0M375.1 291.1h0M401.0 291.9h0M422.4 254.2h0M384.1 334.7h0M384.5 292.1h0M426.5 228.2h0M405.6 314.6h0M420.8 265.5h0M430.5 225.8h0M384.8 314.1h0M394.0 314.0h0M378.8 317.9h0M384.5 299.0h0M391.0 325.7h0M424.9 255.6h0M368.8 302.6h0M408.4 261.3h0M364.7 313.7h0M356.8 282.1h0M375.0 308.7h0M383.6 304.9h0M376.7 328.9h0M391.9 313.2h0M428.0 235.9h0M365.8 274.1h0M376.0 306.5h0M421.2 271.1h0M433.5 235.3h0M381.1 324.4h0M432.0 214.8h0M413.1 293.6h0M410.0 250.7h0M374.3 321.6h0M429.1 223.7h0M369.6 291.0h0M407.5 278.8h0M391.0 272.3h0M369.9 287.7h0M369.9 312.6h0M395.8 316.9h0M437.5 210.2h0M369.7 305.1h0M407.8 312.3h0M416.0 234.1h0M421.6 271.8h0M400.3 295.1h0M406.4 277.8h0M433.5 223.7h0M392.9 270.1h0M376.9 333.5h0M378.8 279.4h0M386.7 335.8h0M416.0 239.3h0M376.2 271.6h0M362.4 293.6h0M394.2 270.7h0M432.4 221.2h0M379.8 291.9h0M424.4 258.9h0M379.5 323.4h0M417.8 253.2h0M355.7 281.6h0M420.5 248.6h0M366.6 284.4h0M364.6 313.4h0M385.4 322.4h0M384.8 336.4h0M368.7 315.4h0M394.7 299.4h0M379.9 332.0h0M369.8 321.7h0M407.4 276.7h0M431.4 229.7h0M384.4 311.9h0M393.6 270.7h0M414.7 237.5h0M375.0 279.1h0M434.2 213.5h0M411.1 268.3h0M376.5 295.2h0M361.9 283.6h0M393.1 288.3h0M420.9 273.9h0M369.3 299.8h0M359.8 301.8h0M429.5 227.4h0M395.5 295.4h0M393.3 325.4h0M427.0 238.8h0M388.6 303.4h0M379.5 278.3h0M382.0 328.6h0M378.6 297.8h0M382.6 324.2h0M419.8 259.6h0M380.5 323.5h0M368.9 300.0h0M373.4 331.4h0M385.3 320.3h0M405.0 297.8h0M437.3 213.3h0M385.8 328.5h0M372.9 286.6h0M405.0 294.9h0M433.2 218.0h0M400.8 325.9h0M382.0 303.0h0M417.1 281.9h0M403.8 263.6h0M412.7 286.5h0M410.7 271.3h0M406.8 283.4h0M437.6 214.5h0M415.0 267.2h0M361.7 274.3h0M422.0 220.5h0M405.4 263.9h0M408.4 291.4h0M408.8 274.0h0M422.1 255.5h0M397.2 295.6h0M429.0 227.1h0M400.0 313.7h0M373.3 310.2h0M368.9 301.4h0M370.7 280.7h0M407.2 271.8h0M392.2 270.2h0M365.6 272.8h0M386.6 326.7h0M406.9 297.8h0M376.7 302.3h0M380.9 332.3h0M384.0 277.9h0M373.4 303.6h0M400.7 301.7h0M386.7 333.4h0M354.3 283.1h0M396.7 319.3h0M381.1 291.2h0M408.1 268.1h0M360.2 291.5h0M424.7 243.6h0M399.5 307.8h0M410.4 301.0h0M424.1 219.1h0M406.0 314.4h0M378.3 297.7h0M409.0 307.5h0M397.6 325.0h0M403.4 271.3h0M368.8 315.1h0M403.5 266.3h0M409.0 288.4h0M418.8 227.2h0M409.8 271.5h0M417.4 271.8h0M375.7 309.8h0M393.3 274.4h0M420.7 253.9h0M390.9 316.2h0M371.1 279.4h0M393.7 332.0h0M395.9 322.8h0M377.2 295.5h0M388.4 292.0h0M385.3 311.4h0M361.4 284.3h0M410.5 298.1h0M433.0 230.7h0M382.6 282.1h0M398.6 318.0h0M372.7 293.5h0M418.4 228.8h0M381.0 303.8h0M427.7 226.2h0M369.9 324.3h0M401.1 307.8h0M392.7 319.3h0M365.1 287.8h0M388.4 318.2h0M395.4 326.4h0M404.7 290.5h0M417.9 234.9h0M401.5 289.1h0M371.7 271.2h0M436.6 220.0h0M412.5 254.8h0M418.9 240.4h0M370.6 308.4h0M393.2 333.1h0M431.0 210.4h0M378.0 278.9h0M387.8 288.4h0M386.0 335.2h0M394.7 272.5h0M372.8 309.3h0M378.4 314.0h0M392.8 329.4h0M421.8 243.8h0M379.9 320.7h0M433.8 208.7h0M367.2 273.5h0M394.7 286.0h0M379.7 329.2h0M374.3 308.2h0M429.5 248.3h0M376.3 305.0h0M412.1 261.0h0M430.0 220.2h0M410.0 270.7h0M369.7 317.6h0M374.1 322.3h0M423.5 218.9h0M422.9 259.3h0M401.7 291.8h0M397.5 321.8h0M402.2 323.9h0M388.8 301.7h0M395.2 329.8h0M400.5 325.5h0M379.8 310.2h0M397.8 328.0h0M419.1 243.4h0M414.9 276.2h0M394.3 318.5h0M403.1 275.2h0M363.1 282.0h0M400.4 317.2h0M412.4 263.0h0M379.5 308.2h0M389.1 314.9h0M397.7 304.8h0M370.6 299.7h0M403.8 312.3h0M379.6 298.0h0M426.6 248.4h0M372.0 283.8h0M405.1 282.0h0M411.6 276.0h0M418.7 237.0h0M365.9 280.5h0M433.2 220.4h0M400.2 323.4h0M371.1 324.7h0M422.9 253.5h0M361.9 302.2h0M398.5 290.0h0M408.1 282.2h0M377.6 277.6h0M385.9 330.8h0M406.2 297.7h0M379.9 332.3h0M428.4 222.5h0M372.6 317.1h0M430.1 217.8h0M359.8 288.0h0M423.6 263.9h0M407.3 259.2h0M422.5 250.4h0M411.0 257.7h0M422.1 222.7h0M394.6 308.9h0M425.6 244.2h0M401.1 277.6h0M380.1 279.2h0M394.2 313.8h0M432.5 210.0h0M369.2 285.2h0M414.6 287.7h0M390.6 309.3h0M374.2 278.6h0M427.8 228.4h0M412.3 296.6h0M387.0 303.8h0M372.0 311.7h0M402.0 271.6h0M426.2 212.5h0M364.5 313.9h0M374.9 280.7h0M428.9 237.8h0M411.0 291.8h0M378.0 280.9h0M389.9 301.9h0M389.3 291.1h0M386.5 276.2h0M393.8 316.9h0M423.5 268.6h0M377.5 320.3h0M423.7 254.8h0M366.0 288.8h0M397.6 318.4h0M392.7 303.2h0M438.0 210.2h0M383.9 273.0h0M376.7 312.3h0M404.8 278.9h0M410.7 254.1h0M416.8 286.5h0M394.0 305.6h0M419.8 252.7h0M405.6 261.6h0M396.1 304.1h0M363.6 297.0h0M391.2 324.2h0M411.8 263.7h0M395.9 312.6h0M389.1 294.5h0M357.9 282.8h0M435.3 209.7h0M408.3 281.5h0M424.9 214.2h0M408.7 259.7h0M374.4 311.9h0M410.8 253.9h0M416.5 280.0h0M364.0 291.1h0M420.1 257.4h0M385.8 294.0h0M396.1 293.6h0M431.5 227.6h0M424.0 269.7h0M381.2 331.3h0M417.5 260.9h0M409.4 258.5h0M365.5 293.6h0M393.0 314.5h0M403.6 262.1h0M430.0 239.8h0M368.5 312.9h0M383.4 308.0h0M419.6 249.0h0M373.8 318.4h0M377.1 292.2h0M364.8 279.9h0M379.7 315.7h0M394.9 308.5h0M412.6 291.6h0M395.5 286.1h0M364.8 287.6h0M414.8 265.0h0M355.2 282.1h0M396.4 282.1h0M379.3 282.3h0M379.4 326.0h0M370.1 290.7h0M389.3 300.6h0M412.8 246.7h0M395.7 296.5h0M386.6 332.8h0M386.5 319.5h0M390.0 309.6h0M390.0 325.6h0M372.9 314.4h0M430.2 246.4h0M402.3 304.4h0M387.2 326.3h0M383.5 322.3h0M364.1 286.2h0M364.3 288.7h0M405.4 306.2h0M412.8 252.3h0M419.5 274.1h0M391.6 331.1h0M392.2 308.3h0M368.8 274.9h0M377.9 332.6h0M400.1 311.7h0M414.1 246.9h0M430.8 230.3h0M360.9 292.8h0M376.0 290.7h0M382.1 316.1h0M377.2 320.9h0M409.5 302.0h0M413.3 276.4h0M381.8 294.6h0M421.5 276.5h0M384.0 308.9h0M396.3 326.8h0M394.9 329.2h0M372.1 316.3h0M383.3 279.6h0M379.1 326.4h0M398.6 281.3h0M391.9 275.9h0M397.2 271.0h0M399.6 323.7h0M373.5 300.0h0M372.1 326.3h0M383.8 277.7h0M405.6 314.5h0M361.8 287.1h0M408.6 268.2h0M382.1 293.2h0M392.0 274.7h0M411.7 301.6h0M422.7 256.7h0M359.7 278.2h0M360.7 286.4h0M367.8 289.0h0M381.9 308.2h0M391.3 311.7h0M387.0 295.5h0M360.1 285.5h0M407.2 273.6h0M364.8 263.6h0M353.9 278.7h0M366.9 265.5h0M361.4 270.8h0M356.3 258.6h0M368.8 267.0h0M358.5 269.0h0M351.4 260.7h0M350.7 255.1h0M358.3 261.6h0M352.7 278.8h0M349.9 271.8h0M348.7 262.7h0M360.1 268.4h0M347.9 264.7h0M346.8 262.7h0M355.6 264.3h0M364.6 264.7h0M351.1 268.2h0M357.0 273.2h0M351.1 262.1h0M354.3 274.0h0M349.5 273.1h0M361.4 271.1h0M363.4 269.6h0M352.8 252.5h0M356.7 268.9h0M349.5 264.1h0M349.3 272.7h0M357.8 261.4h0M350.8 277.0h0M347.9 260.1h0M350.1 271.8h0M353.9 266.0h0M357.0 256.8h0M358.2 272.4h0M363.9 269.5h0M363.1 271.1h0M362.8 269.7h0M353.5 253.9h0M363.8 266.3h0M351.5 266.1h0M351.9 257.4h0M362.1 271.1h0M351.2 262.4h0M348.5 267.9h0M360.3 268.5h0M355.7 276.3h0M354.5 263.6h0M353.1 257.6h0M353.0 258.9h0M350.2 261.3h0M348.3 268.3h0M351.9 280.1h0M362.0 264.9h0M358.7 263.8h0M350.6 261.9h0M357.4 264.9h0M363.0 268.6h0M357.5 263.0h0M354.6 262.1h0M368.1 267.3h0M440.1 206.2h0M437.0 204.9h0M439.5 201.6h0M430.1 196.4h0M428.2 206.0h0M436.5 202.5h0M427.8 207.9h0M428.8 199.3h0M433.0 192.2h0M429.6 204.2h0M437.6 205.0h0M428.2 202.6h0M428.1 202.4h0M433.2 208.3h0M440.8 205.7h0M431.8 197.6h0M429.5 209.0h0M429.5 197.3h0M428.8 205.1h0M439.6 195.5h0M430.2 206.8h0M431.3 195.1h0M431.7 201.6h0M441.5 200.7h0M434.1 190.7h0M429.4 208.5h0M438.2 201.1h0M441.4 197.0h0M439.6 194.2h0M439.2 196.0h0M438.3 194.5h0M436.9 208.2h0M428.5 204.3h0M435.5 204.0h0M440.3 203.6h0M432.2 193.2h0M434.2 203.9h0M440.6 196.3h0M430.1 199.9h0M430.6 198.0h0M430.5 207.9h0M434.9 208.3h0M436.1 204.2h0M437.6 200.1h0M335.7 141.3h0M329.7 147.4h0M345.2 151.9h0M347.1 157.0h0M327.0 158.7h0M321.7 169.3h0M332.9 169.3h0M331.8 175.2h0M337.6 177.1h0M341.8 176.3h0M343.9 179.3h0M341.8 181.6h0M348.8 181.0h0M352.0 180.5h0M355.2 178.4h0M313.8 186.3h0M328.7 188.4h0M325.0 191.6h0M345.2 187.7h0M355.8 186.9h0M359.0 188.4h0M362.0 188.8h0M335.7 196.9h0M343.5 199.4h0M317.4 205.4h0M339.3 207.5h0M340.3 209.6h0M334.0 210.7h0M338.6 212.4h0M345.2 211.7h0M338.2 215.6h0M345.2 215.6h0M354.1 216.6h0M315.9 218.1h0M330.8 218.1h0M326.5 219.6h0M335.0 219.6h0M325.9 220.2h0M317.4 239.7h0M320.6 240.8h0M327.6 251.0h0M331.8 252.5h0M373.2 235.5h0M368.4 238.7h0M361.1 221.7h0M340.3 262.0h0M344.2 276.9h0M345.6 270.5h0M351.0 284.3h0M331.9 220.2h0M349.5 274.7h0M354.6 244.1h0M353.0 271.7h0M347.5 261.5h0M346.4 257.0h0M338.6 223.2h0M354.0 270.0h0M340.2 234.9h0M352.9 244.9h0M344.6 246.6h0M356.2 244.4h0M354.9 272.6h0M337.0 234.0h0M355.7 263.5h0M339.2 229.8h0M339.2 222.5h0M351.1 251.6h0M353.4 236.0h0M344.8 234.6h0M352.6 216.6h0M333.6 226.9h0M351.2 248.4h0M360.7 246.0h0M359.0 253.0h0M349.6 240.4h0M363.9 247.8h0M367.8 248.8h0M357.0 247.6h0M351.3 246.5h0M352.7 234.7h0M362.4 250.5h0M336.1 234.4h0M359.7 238.9h0M342.1 247.2h0M347.2 213.9h0M363.1 259.8h0M357.9 266.6h0M350.0 246.3h0M369.4 257.7h0M355.7 242.6h0M349.0 220.7h0M352.3 237.9h0M355.2 226.0h0M352.4 223.3h0M355.3 256.5h0M344.6 219.7h0M371.7 259.4h0M350.4 225.1h0M340.1 221.6h0M340.6 213.3h0M336.8 237.5h0M360.6 242.6h0M360.5 237.7h0M346.5 265.1h0M340.5 243.8h0M331.0 214.7h0M338.9 237.0h0M359.3 234.0h0M354.8 263.3h0M358.2 252.2h0M355.1 268.0h0M355.4 232.6h0M352.0 266.7h0M346.2 241.5h0M353.4 265.5h0M350.8 231.8h0M364.9 260.8h0M349.7 257.0h0M353.2 271.7h0M347.0 241.8h0M342.8 226.6h0M363.8 239.5h0M347.9 210.9h0M371.8 255.5h0M361.0 253.6h0M329.8 216.5h0M337.1 224.5h0M348.8 270.8h0M341.4 247.6h0M335.6 220.3h0M350.0 256.9h0M337.3 224.2h0M354.7 251.2h0M352.7 242.6h0M356.2 231.3h0M347.2 213.7h0M342.1 254.9h0M357.3 238.4h0M362.4 250.7h0M350.1 216.4h0M370.0 260.8h0M339.7 223.2h0M336.2 227.5h0M365.6 248.7h0M360.2 238.6h0M338.1 229.0h0M348.1 223.8h0M353.4 246.2h0M341.0 220.5h0M352.6 258.0h0M350.9 233.8h0M354.4 239.0h0M347.3 265.6h0M365.7 266.3h0M355.7 219.5h0M361.1 245.9h0M355.3 248.7h0M366.1 256.4h0M362.7 250.5h0M347.4 234.6h0M343.0 230.5h0M335.8 226.3h0M355.4 266.9h0M370.5 259.9h0M356.0 270.9h0M358.9 272.2h0M344.8 251.2h0M359.6 256.3h0M360.9 252.7h0M347.8 251.3h0M350.0 250.5h0M356.9 252.0h0M357.6 260.6h0M360.0 269.8h0M356.1 250.3h0M351.0 249.0h0M363.1 264.0h0M354.1 270.9h0M348.5 251.5h0M350.4 254.5h0M348.5 247.3h0M359.5 268.7h0M367.9 267.8h0M364.9 262.6h0M359.6 245.2h0M351.9 230.0h0M367.0 260.8h0M353.8 248.0h0M365.7 266.4h0M369.7 261.0h0M352.2 257.4h0M363.4 269.0h0M364.1 264.9h0M360.3 255.4h0M365.4 267.1h0M357.2 252.6h0M362.8 265.8h0M365.9 258.1h0M361.5 271.7h0M346.2 235.3h0M348.8 236.9h0M355.2 267.1h0M367.1 262.7h0M355.2 259.9h0M365.7 256.4h0M351.5 248.3h0M361.4 266.3h0M355.1 261.5h0M356.9 259.6h0M352.3 254.7h0M349.1 247.0h0M352.2 233.4h0M342.9 233.8h0M354.5 241.9h0M350.4 253.1h0M365.5 269.6h0M357.2 259.3h0M349.6 261.9h0M366.7 268.9h0M365.1 261.8h0M363.4 269.9h0M356.8 247.5h0M365.6 264.1h0M360.5 252.3h0M360.7 256.1h0M367.4 266.3h0M356.7 270.1h0M365.4 259.4h0M345.0 239.2h0M360.9 251.4h0M365.0 263.5h0M356.8 272.9h0M357.9 263.3h0M360.8 251.4h0M356.6 269.7h0M364.3 259.9h0M359.4 260.7h0M354.3 246.2h0M346.1 234.7h0M359.0 243.5h0M368.5 261.3h0M354.4 251.3h0M361.8 268.6h0M356.2 246.9h0M353.0 261.8h0M362.2 265.9h0M361.4 256.1h0M363.9 264.1h0M365.8 261.1h0M368.7 265.5h0M364.8 253.3h0M354.1 255.6h0M360.7 267.7h0M366.9 261.7h0M355.4 268.5h0M364.1 263.5h0M363.2 262.6h0M360.1 271.6h0M354.5 261.9h0"/>
<path class="ax" d="M277.2 27.0V377.5H453.6"/>
<path class="tc" d="M277.2 326.2h-3.2M277.2 255.7h-3.2M277.2 185.2h-3.2M277.2 114.7h-3.2M277.2 44.2h-3.2M301.0 377.5v2.3M353.6 377.5v2.3M406.3 377.5v2.3"/>
<text class="tk" transform="translate(272.4 332.1) scale(1 0.990)" text-anchor="end">20</text>
<text class="tk" transform="translate(272.4 261.6) scale(1 0.990)" text-anchor="end">30</text>
<text class="tk" transform="translate(272.4 191.1) scale(1 0.990)" text-anchor="end">40</text>
<text class="tk" transform="translate(272.4 120.6) scale(1 0.990)" text-anchor="end">50</text>
<text class="tk" transform="translate(272.4 50.1) scale(1 0.990)" text-anchor="end">60</text>
<text class="tk" transform="translate(300.4 394.4) scale(1 0.990)" text-anchor="middle">200</text>
<text class="tk" transform="translate(353.0 394.4) scale(1 0.990)" text-anchor="middle">400</text>
<text class="tk" transform="translate(405.7 394.4) scale(1 0.990)" text-anchor="middle">600</text>
<text class="lb" style="font-size:17.05px" transform="translate(364.7 19.8) scale(1 1.082)" text-anchor="middle">Bulgaria</text>
<text class="lb" transform="translate(365.2 414.75) scale(1 1.060)" text-anchor="middle">Posterior mean</text>
<text class="lb yl" transform="translate(249.3 202.4) rotate(-90) scale(1 1.060)" text-anchor="middle">Posterior SD</text>
<g fill="#000" stroke="none">
<path d="M571.0 262.0L578.5 281.0L586.0 296.0L593.5 314.0L600.0 325.0L605.0 331.5L609.0 334.0L612.5 334.0L615.0 332.0L623.0 319.5L627.0 311.0L629.5 299.0L634.0 288.0L630.0 284.5L622.0 287.0L612.0 284.0L604.0 280.0L601.0 264.0L595.0 250.0L589.0 232.0L582.0 213.5L575.0 194.0L567.5 172.0L564.5 152.0L557.5 131.0L550.0 120.5L541.5 122.0L544.0 135.0L548.5 152.0L554.0 175.0L562.0 197.0L568.0 218.0L566.0 238.0Z"/>
</g>
<ellipse cx="615.5" cy="273.0" rx="10.5" ry="2.0" fill="#fff" transform="rotate(-28.6 615.5 273.0)"/>
<ellipse cx="608.5" cy="276.8" rx="3.5" ry="2.2" fill="#fff" transform="rotate(-17.2 608.5 276.8)"/>
<ellipse cx="629.5" cy="306.2" rx="6.5" ry="0.5" fill="#fff" transform="rotate(-61.3 629.5 306.2)"/>
<path class="pt" d="M590.7 302.9h0M557.6 227.0h0M612.4 269.3h0M565.2 247.8h0M578.7 218.2h0M566.1 233.2h0M601.0 309.4h0M638.1 281.7h0M622.8 303.3h0M557.4 226.9h0M601.8 303.1h0M620.9 279.6h0M598.8 257.7h0M578.9 241.1h0M596.3 290.3h0M559.4 232.9h0M583.6 263.9h0M584.1 285.3h0M631.0 279.8h0M573.0 224.9h0M587.3 262.6h0M562.1 228.6h0M588.8 265.4h0M588.5 238.8h0M642.8 260.5h0M574.8 237.3h0M616.9 312.2h0M642.4 266.8h0M618.5 299.8h0M591.4 234.6h0M578.5 282.7h0M566.4 221.0h0M634.1 275.3h0M603.2 315.2h0M605.7 297.1h0M597.8 320.6h0M591.0 260.2h0M609.2 305.5h0M617.8 329.5h0M571.4 253.7h0M556.6 215.6h0M641.9 287.0h0M612.1 290.7h0M583.0 275.1h0M577.7 205.4h0M582.4 233.9h0M598.6 265.3h0M602.3 328.9h0M569.5 217.0h0M618.3 266.7h0M599.3 263.0h0M581.4 274.9h0M613.3 320.3h0M568.2 257.1h0M565.3 216.9h0M579.8 276.3h0M578.7 257.1h0M572.8 248.4h0M646.1 261.7h0M578.0 226.0h0M604.3 273.1h0M627.5 318.0h0M625.3 292.0h0M574.6 206.8h0M566.1 254.8h0M614.9 301.6h0M597.4 259.7h0M575.2 252.3h0M617.1 299.2h0M607.8 270.1h0M560.4 222.8h0M599.5 268.7h0M588.1 228.2h0M573.3 209.3h0M584.3 218.9h0M577.4 275.9h0M609.6 324.3h0M626.7 301.5h0M557.2 227.3h0M594.6 280.7h0M575.1 238.9h0M604.1 288.2h0M620.3 275.8h0M579.9 266.6h0M583.6 253.8h0M592.5 247.4h0M627.6 304.0h0M559.5 217.3h0M603.1 323.0h0M601.8 299.3h0M565.1 247.0h0M611.3 298.1h0M573.3 251.4h0M614.8 308.5h0M627.0 279.2h0M586.4 280.3h0M585.1 241.4h0M603.0 266.2h0M635.1 270.4h0M582.3 224.7h0M559.1 233.9h0M620.9 280.9h0M586.5 278.3h0M574.3 230.0h0M551.3 217.9h0M608.4 313.4h0M602.4 327.6h0M637.3 299.5h0M614.1 292.6h0M599.9 269.0h0M613.6 327.4h0M569.3 217.9h0M597.2 257.1h0M567.3 256.2h0M589.3 263.7h0M561.7 221.5h0M636.5 276.2h0M570.7 221.1h0M579.2 283.5h0M589.5 289.2h0M564.9 229.9h0M643.4 257.4h0M582.9 257.8h0M616.8 307.2h0M615.8 289.9h0M638.3 280.8h0M595.2 283.8h0M556.4 222.9h0M586.5 235.1h0M606.2 295.4h0M594.2 289.0h0M640.0 295.1h0M626.9 292.1h0M623.0 276.7h0M572.8 242.0h0M588.1 241.1h0M599.1 326.0h0M566.7 208.2h0M577.5 236.3h0M645.9 256.5h0M565.5 244.1h0M626.6 314.9h0M617.8 309.5h0M609.9 315.9h0M572.2 240.9h0M598.8 263.0h0M558.0 236.1h0M624.1 295.4h0M634.5 302.6h0M593.6 298.8h0M606.2 327.2h0M571.5 245.7h0M603.7 328.8h0M618.7 331.2h0M633.5 289.1h0M593.2 306.2h0M549.1 225.8h0M610.6 266.9h0M628.3 316.2h0M575.6 205.4h0M607.8 271.6h0M597.1 277.4h0M596.1 281.3h0M592.4 269.0h0M564.8 209.0h0M585.9 241.6h0M574.8 200.7h0M562.5 212.9h0M596.5 272.9h0M614.1 280.3h0M597.4 293.7h0M611.4 321.5h0M582.8 237.1h0M560.9 217.0h0M588.8 272.7h0M577.9 272.2h0M583.5 255.1h0M585.0 278.0h0M577.6 223.4h0M562.1 231.8h0M561.5 238.5h0M566.5 220.4h0M558.0 217.4h0M632.3 289.4h0M573.6 205.2h0M608.5 262.4h0M575.5 220.1h0M594.5 270.8h0M624.8 288.2h0M630.3 298.6h0M628.9 314.9h0M614.4 302.1h0M598.3 281.4h0M565.6 233.5h0M554.9 219.3h0M611.7 334.1h0M578.2 259.5h0M590.9 264.7h0M605.0 289.8h0M591.0 259.6h0M588.6 297.2h0M568.1 242.3h0M568.5 254.3h0M555.5 227.4h0M636.4 284.5h0M579.4 279.4h0M602.8 279.0h0M599.7 300.0h0M603.5 306.2h0M591.9 272.9h0M623.9 314.7h0M599.3 259.2h0M563.2 220.6h0M564.5 217.3h0M571.9 230.8h0M588.5 247.0h0M582.8 246.8h0M576.2 250.8h0M643.3 276.7h0M612.5 312.6h0M575.4 201.7h0M573.5 249.0h0M564.7 246.0h0M574.1 262.2h0M609.4 314.1h0M609.7 328.2h0M628.3 297.7h0M578.1 242.4h0M606.4 329.9h0M602.9 279.6h0M608.4 310.7h0M565.5 221.6h0M557.9 222.1h0M634.7 301.6h0M624.0 285.2h0M596.1 280.3h0M637.5 270.4h0M579.3 203.1h0M623.3 275.0h0M577.3 227.8h0M590.9 257.7h0M552.7 219.8h0M623.2 297.3h0M635.4 290.5h0M561.8 228.8h0M637.2 279.8h0M610.5 319.8h0M578.3 216.2h0M619.6 309.8h0M593.0 291.3h0M609.3 263.6h0M633.8 292.4h0M571.5 233.9h0M587.8 261.3h0M589.7 294.0h0M578.9 283.5h0M604.5 281.1h0M569.3 257.3h0M634.2 287.4h0M582.0 230.0h0M627.5 303.3h0M596.1 285.0h0M579.7 214.5h0M573.6 211.3h0M595.6 298.5h0M579.2 218.1h0M575.9 226.5h0M598.1 289.1h0M578.2 244.8h0M620.7 308.7h0M565.1 248.1h0M636.6 288.1h0M598.1 316.4h0M561.6 225.2h0M576.8 239.3h0M592.6 258.4h0M571.7 253.5h0M608.5 289.2h0M575.1 226.1h0M626.0 302.2h0M561.5 225.8h0M610.7 328.4h0M575.3 268.8h0M643.5 272.3h0M580.1 247.4h0M626.7 286.6h0M588.4 267.6h0M579.0 229.5h0M614.9 283.6h0M627.6 302.7h0M639.3 287.2h0M577.5 224.0h0M584.2 220.2h0M601.7 258.4h0M598.7 260.5h0M556.9 228.9h0M628.0 301.9h0M587.1 234.0h0M592.6 288.3h0M560.7 232.1h0M616.5 328.1h0M608.5 262.2h0M586.6 283.9h0M571.3 225.3h0M573.0 220.1h0M602.4 309.1h0M618.3 291.1h0M608.0 271.8h0M580.8 265.4h0M581.9 263.1h0M604.3 273.2h0M551.4 229.3h0M605.7 330.7h0M585.9 223.4h0M616.2 289.5h0M588.9 293.8h0M576.7 272.3h0M602.6 304.1h0M643.4 275.1h0M612.2 319.2h0M632.0 296.2h0M585.0 227.2h0M598.9 273.4h0M603.1 260.3h0M549.6 218.9h0M614.5 329.3h0M637.2 287.1h0M583.0 280.3h0M598.8 305.0h0M593.5 264.2h0M570.7 254.4h0M592.5 250.0h0M593.1 272.8h0M592.7 244.2h0M619.6 313.0h0M617.5 277.0h0M611.9 282.6h0M629.6 295.9h0M564.8 225.3h0M636.6 265.4h0M613.0 287.6h0M565.0 213.9h0M582.7 231.2h0M565.6 242.5h0M648.7 257.3h0M584.0 247.6h0M585.4 229.9h0M553.3 231.9h0M581.3 251.2h0M603.7 301.4h0M560.8 239.2h0M620.5 318.6h0M573.0 235.5h0M614.8 314.7h0M580.5 267.3h0M584.3 270.7h0M634.6 270.4h0M624.1 298.9h0M613.5 322.0h0M628.4 319.2h0M584.9 257.3h0M611.9 265.5h0M567.3 225.4h0M591.3 300.0h0M601.2 275.9h0M585.3 266.2h0M626.8 283.4h0M628.1 290.0h0M556.8 229.9h0M620.9 319.9h0M560.0 217.8h0M563.7 208.5h0M574.7 221.2h0M632.5 283.5h0M626.8 301.7h0M641.5 272.8h0M576.8 274.8h0M613.6 288.4h0M626.0 276.7h0M620.1 318.5h0M560.5 220.1h0M591.2 268.3h0M646.4 261.0h0M577.5 269.5h0M571.6 253.1h0M589.4 248.4h0M571.2 221.1h0M574.8 242.9h0M569.3 228.9h0M628.8 319.4h0M605.0 318.5h0M566.5 252.3h0M615.9 267.2h0M645.3 270.5h0M632.4 286.9h0M572.7 226.7h0M586.8 245.1h0M564.3 243.8h0M565.0 252.2h0M566.0 238.3h0M592.9 241.9h0M598.1 318.8h0M558.5 214.6h0M601.4 270.1h0M604.6 301.5h0M562.8 240.4h0M578.8 244.7h0M643.9 271.5h0M623.9 302.6h0M611.2 288.5h0M566.3 239.1h0M603.9 283.6h0M639.4 282.3h0M616.5 332.4h0M613.4 325.9h0M598.3 257.0h0M565.7 251.3h0M561.9 245.7h0M625.9 315.1h0M636.6 281.8h0M638.5 290.1h0M644.6 261.9h0M641.2 274.6h0M616.7 331.5h0M623.6 292.3h0M608.7 296.0h0M586.0 228.8h0M549.3 223.2h0M549.2 222.2h0M569.4 225.8h0M616.2 282.5h0M584.9 247.4h0M588.8 304.1h0M572.4 215.8h0M570.3 204.2h0M572.2 210.7h0M572.9 245.0h0M567.6 241.4h0M640.3 290.9h0M604.7 324.7h0M570.2 238.5h0M610.5 291.7h0M589.4 246.1h0M563.3 211.5h0M611.1 305.2h0M618.2 304.7h0M584.7 286.7h0M638.3 273.2h0M610.3 286.7h0M568.4 232.2h0M622.7 278.3h0M582.0 215.0h0M568.1 217.5h0M599.7 317.5h0M611.9 307.2h0M555.8 217.5h0M568.2 205.4h0M592.6 261.2h0M608.5 302.1h0M560.3 214.1h0M583.0 253.0h0M619.8 301.3h0M615.1 305.8h0M593.9 242.4h0M634.9 269.7h0M634.4 276.2h0M591.6 255.5h0M594.1 288.4h0M635.5 300.9h0M595.1 270.3h0M606.3 315.9h0M617.9 315.6h0M608.6 270.7h0M636.6 267.1h0M571.3 257.4h0M574.1 211.2h0M595.5 296.4h0M569.4 229.6h0M582.5 269.4h0M627.3 283.9h0M616.8 317.8h0M597.1 271.3h0M556.8 232.9h0M597.5 276.8h0M618.8 300.5h0M604.4 285.1h0M614.2 284.7h0M559.7 228.2h0M591.3 251.9h0M563.9 237.9h0M598.1 294.4h0M623.1 321.5h0M579.2 280.5h0M614.9 284.1h0M571.9 256.7h0M581.0 271.6h0M603.1 275.2h0M630.7 290.5h0M572.4 241.5h0M588.1 292.5h0M615.7 277.6h0M642.5 271.3h0M592.4 261.6h0M631.3 311.9h0M568.6 241.5h0M579.6 253.8h0M583.7 244.4h0M580.7 268.7h0M621.0 322.8h0M589.0 264.6h0M567.2 233.8h0M603.5 281.7h0M568.8 234.1h0M584.0 228.2h0M585.5 269.2h0M582.1 269.9h0M638.6 290.0h0M629.3 281.3h0M564.3 223.6h0M620.7 307.8h0M599.8 259.8h0M573.3 228.2h0M622.0 312.8h0M601.3 321.9h0M580.6 210.6h0M621.8 316.0h0M566.2 212.4h0M598.9 264.8h0M598.9 254.4h0M574.0 269.5h0M626.8 282.8h0M638.6 276.1h0M608.5 305.9h0M603.9 303.5h0M589.2 278.8h0M593.6 250.6h0M597.3 297.0h0M568.8 243.8h0M635.3 293.3h0M616.5 330.9h0M568.9 260.5h0M636.3 294.8h0M574.5 215.5h0M608.6 328.8h0M614.3 318.9h0M570.1 223.3h0M621.5 279.8h0M553.6 231.8h0M642.5 285.3h0M580.2 230.8h0M606.9 319.0h0M619.4 303.8h0M569.0 252.2h0M593.8 280.5h0M596.0 307.2h0M573.3 203.1h0M590.9 249.2h0M588.9 251.1h0M578.9 281.9h0M615.7 292.1h0M601.1 321.5h0M615.6 298.4h0M596.0 266.9h0M573.0 209.5h0M621.1 293.4h0M583.4 282.0h0M582.6 263.6h0M619.1 279.5h0M596.0 320.2h0M634.5 296.5h0M586.7 247.5h0M594.6 308.4h0M587.7 264.2h0M622.5 288.6h0M600.7 324.6h0M598.0 282.5h0M573.1 236.6h0M559.3 226.5h0M635.4 296.0h0M583.0 245.9h0M594.6 264.2h0M628.0 300.2h0M607.1 284.8h0M580.2 252.5h0M568.7 225.0h0M614.0 278.2h0M575.0 256.8h0M564.1 207.9h0M555.7 226.1h0M608.8 286.8h0M634.2 299.9h0M646.9 263.9h0M639.7 288.0h0M559.3 226.3h0M581.5 243.1h0M605.7 291.1h0M553.2 215.6h0M629.1 290.8h0M603.6 288.2h0M569.5 215.0h0M609.9 287.8h0M594.5 271.1h0M594.5 271.4h0M585.7 281.2h0M625.2 272.1h0M600.2 300.9h0M592.0 258.2h0M630.6 269.4h0M618.5 312.9h0M579.2 254.6h0M638.1 300.0h0M599.9 296.2h0M619.9 317.9h0M598.3 297.5h0M552.6 230.6h0M556.9 230.6h0M602.6 317.3h0M617.5 312.2h0M622.1 276.9h0M598.4 285.4h0M580.4 217.1h0M645.5 260.5h0M571.2 256.2h0M631.3 314.9h0M570.3 239.0h0M575.8 246.2h0M588.1 282.4h0M589.9 295.0h0M595.6 279.0h0M553.9 231.7h0M614.6 293.0h0M637.6 274.1h0M598.5 276.1h0M588.4 267.4h0M606.3 311.0h0M610.8 330.7h0M612.0 298.9h0M597.0 283.6h0M561.5 216.9h0M586.9 252.1h0M630.1 314.3h0M580.1 240.1h0M603.9 291.9h0M592.8 275.6h0M586.8 254.4h0M549.2 219.7h0M587.7 249.5h0M580.2 245.6h0M594.2 291.6h0M585.0 295.6h0M562.5 241.8h0M617.4 308.5h0M573.8 258.2h0M600.3 320.5h0M585.7 237.7h0M569.9 247.7h0M628.6 291.2h0M596.2 283.9h0M643.6 265.8h0M568.1 248.0h0M636.3 298.0h0M574.6 228.9h0M600.2 253.9h0M602.5 297.0h0M567.0 234.0h0M580.0 203.7h0M619.1 265.6h0M556.7 223.8h0M586.6 281.9h0M593.2 256.7h0M561.4 230.8h0M604.2 329.3h0M609.5 327.8h0M618.3 299.1h0M622.8 297.8h0M572.7 240.9h0M564.7 209.9h0M601.2 260.7h0M592.5 303.8h0M586.3 266.0h0M592.2 276.5h0M578.0 228.6h0M573.5 204.9h0M623.3 310.2h0M622.8 289.5h0M579.4 267.9h0M575.2 206.6h0M611.9 283.8h0M582.8 233.3h0M567.3 248.6h0M566.2 252.7h0M586.3 280.3h0M588.5 233.9h0M606.1 287.2h0M617.4 278.6h0M579.1 256.1h0M593.3 252.5h0M638.0 286.5h0M590.3 284.9h0M572.7 255.4h0M615.3 279.0h0M596.8 292.7h0M638.1 268.2h0M626.3 301.9h0M580.5 210.6h0M577.5 233.8h0M589.0 256.3h0M600.1 274.8h0M588.3 242.6h0M585.8 265.9h0M629.5 295.4h0M560.5 231.1h0M587.2 234.7h0M595.6 277.6h0M579.8 242.7h0M606.4 265.6h0M570.6 227.4h0M621.7 289.1h0M615.9 312.3h0M609.5 289.4h0M627.5 289.3h0M560.5 239.3h0M590.6 233.0h0M616.6 316.5h0M625.5 284.8h0M622.2 294.2h0M630.1 278.3h0M572.7 259.8h0M614.4 282.0h0M636.1 274.6h0M553.4 230.5h0M610.4 309.9h0M608.5 331.7h0M581.1 226.2h0M563.0 225.8h0M583.0 240.9h0M594.1 293.8h0M582.5 277.5h0M640.7 290.2h0M581.7 267.1h0M566.8 253.4h0M639.0 292.3h0M634.9 267.8h0M615.8 290.8h0M612.8 318.1h0M606.6 264.1h0M648.9 251.6h0M584.6 270.0h0M591.2 301.5h0M598.8 283.4h0M607.0 272.3h0M602.2 319.4h0M622.5 276.4h0M579.0 274.9h0M626.2 279.2h0M590.9 284.3h0M602.6 285.9h0M595.1 316.0h0M622.2 283.2h0M554.7 216.5h0M584.9 247.2h0M617.5 313.1h0M634.9 272.9h0M610.8 296.8h0M578.5 200.1h0M622.3 273.3h0M592.7 258.6h0M628.9 315.8h0M618.2 299.0h0M621.9 299.7h0M558.7 232.9h0M599.6 289.6h0M558.1 229.8h0M583.7 267.4h0M621.6 318.7h0M595.0 267.9h0M564.4 234.4h0M615.0 307.3h0M558.9 237.8h0M574.4 249.2h0M603.6 272.1h0M598.0 306.6h0M565.0 222.3h0M621.5 301.2h0M580.7 224.7h0M598.0 291.4h0M625.2 304.5h0M599.0 307.5h0M585.6 287.7h0M554.3 214.8h0M572.0 225.1h0M624.9 316.4h0M597.3 305.4h0M568.8 221.6h0M572.2 251.8h0M580.8 284.5h0M586.5 263.0h0M570.7 244.1h0M573.8 226.0h0M590.0 246.1h0M618.5 293.9h0M584.0 254.7h0M611.4 319.2h0M573.2 263.4h0M602.4 258.0h0M590.2 260.2h0M630.1 284.8h0M591.5 304.4h0M566.1 211.5h0M581.1 207.4h0M590.7 287.1h0M600.8 283.5h0M564.0 230.8h0M563.6 237.0h0M613.8 264.2h0M629.7 283.2h0M600.8 260.2h0M579.8 271.8h0M633.8 303.4h0M584.2 251.3h0M585.2 266.5h0M557.2 223.4h0M573.8 253.5h0M630.0 317.5h0M599.7 292.4h0M578.9 227.1h0M578.9 258.6h0M633.1 286.9h0M641.3 289.2h0M580.7 242.9h0M626.0 271.0h0M607.4 268.4h0M606.6 296.4h0M588.4 265.3h0M595.9 282.1h0M587.7 252.5h0M586.4 222.2h0M564.3 223.0h0M625.0 290.2h0M602.5 311.2h0M575.3 258.1h0M592.4 300.1h0M575.9 260.9h0M619.1 321.1h0M599.6 271.6h0M585.2 254.3h0M587.5 260.4h0M571.9 248.0h0M610.6 288.1h0M572.6 227.2h0M554.5 234.7h0M623.6 297.0h0M605.1 261.3h0M646.2 257.1h0M612.5 302.4h0M574.7 206.5h0M612.3 334.1h0M591.1 260.0h0M554.6 223.4h0M594.5 275.4h0M576.2 202.1h0M591.9 243.0h0M598.5 321.7h0M636.1 290.4h0M616.6 300.6h0M613.9 297.3h0M619.5 312.8h0M647.2 265.6h0M585.7 236.2h0M579.4 236.8h0M590.4 254.4h0M554.3 226.0h0M614.0 292.0h0M611.5 298.5h0M593.8 302.9h0M620.3 288.6h0M619.8 277.3h0M616.1 313.5h0M613.6 280.9h0M593.5 311.2h0M601.9 288.2h0M588.4 267.4h0M627.4 279.3h0M569.3 254.4h0M555.0 215.6h0M578.5 212.0h0M588.1 276.8h0M584.2 245.9h0M570.7 216.6h0M643.4 257.1h0M643.1 276.6h0M641.7 281.1h0M604.4 295.4h0M589.5 278.1h0M580.8 273.3h0M591.0 306.1h0M553.1 229.1h0M589.1 288.3h0M618.8 283.2h0M623.3 310.7h0M561.0 211.0h0M577.6 265.0h0M590.0 253.8h0M559.1 210.9h0M609.4 266.9h0M635.4 296.3h0M583.2 291.7h0M608.3 334.2h0M592.6 299.4h0M617.2 288.4h0M627.8 292.5h0M581.4 207.6h0M643.8 268.7h0M618.8 327.6h0M646.8 265.2h0M628.7 312.0h0M574.1 235.5h0M593.4 288.3h0M570.9 231.9h0M550.1 224.1h0M581.3 285.6h0M583.1 271.2h0M567.4 249.8h0M613.1 269.7h0M610.3 330.7h0M587.7 275.5h0M554.5 224.8h0M579.0 242.7h0M634.6 279.8h0M575.7 227.7h0M601.7 292.2h0M609.7 262.6h0M564.7 239.1h0M626.1 272.1h0M626.9 286.9h0M582.9 262.9h0M575.0 238.2h0M622.4 324.7h0M559.5 224.4h0M607.0 328.4h0M620.7 304.3h0M589.4 262.3h0M585.7 264.3h0M588.6 283.0h0M589.1 299.5h0M587.1 239.3h0M571.1 234.0h0M576.9 240.0h0M601.0 290.0h0M588.8 291.9h0M645.3 260.8h0M558.3 224.5h0M571.4 214.8h0M566.7 240.9h0M611.4 290.6h0M579.0 267.7h0M597.9 267.5h0M567.2 235.4h0M565.9 242.4h0M612.4 287.1h0M635.7 297.4h0M616.3 292.7h0M610.4 289.0h0M571.2 231.1h0M563.9 238.0h0M567.4 212.5h0M587.4 292.8h0M588.9 260.0h0M613.8 268.5h0M567.3 235.7h0M563.2 249.1h0M584.3 233.5h0M587.0 266.1h0M595.9 303.0h0M582.8 229.4h0M611.0 263.0h0M594.5 256.6h0M610.1 282.3h0M592.7 272.5h0M595.5 270.8h0M573.5 252.0h0M566.9 253.5h0M571.1 255.1h0M592.0 265.4h0M591.9 300.5h0M561.8 244.0h0M577.3 267.4h0M573.2 249.5h0M613.2 294.8h0M638.1 292.4h0M614.6 303.3h0M601.2 326.3h0M592.0 274.1h0M563.2 237.1h0M564.0 249.5h0M605.6 312.0h0M587.8 234.9h0M617.4 291.4h0M577.1 216.2h0M590.7 234.7h0M578.6 242.2h0M620.3 311.6h0M588.1 251.4h0M549.1 226.5h0M583.8 215.7h0M559.0 239.4h0M581.8 244.5h0M597.6 316.1h0M616.1 292.4h0M582.9 238.8h0M634.3 303.6h0M600.5 309.9h0M644.7 264.4h0M615.7 297.7h0M616.4 308.6h0M587.1 251.2h0M573.5 234.7h0M586.4 222.3h0M624.7 284.5h0M557.9 236.8h0M616.2 301.5h0M589.2 252.4h0M591.5 289.5h0M636.7 289.7h0M595.6 295.7h0M611.7 325.4h0M584.2 241.7h0M617.1 324.6h0M579.8 209.6h0M617.5 328.9h0M583.3 216.2h0M643.4 274.3h0M571.3 261.1h0M572.7 260.6h0M585.3 219.2h0M600.7 255.3h0M607.4 285.4h0M596.7 258.4h0M611.2 331.9h0M564.1 241.8h0M618.7 310.9h0M598.4 304.6h0M569.5 218.1h0M587.6 227.7h0M623.6 275.0h0M572.7 219.7h0M584.9 249.5h0M612.7 329.5h0M619.7 322.0h0M591.0 303.7h0M571.7 261.0h0M601.5 288.5h0M641.5 278.5h0M604.4 288.4h0M619.8 292.7h0M588.4 284.0h0M594.7 296.5h0M616.3 294.6h0M615.6 326.7h0M587.6 291.1h0M613.5 308.2h0M614.4 301.9h0M581.7 279.3h0M607.3 264.9h0M563.2 236.8h0M594.5 289.4h0M548.7 225.3h0M603.1 314.8h0M580.3 258.8h0M619.1 320.6h0M574.0 205.5h0M621.4 304.3h0M616.5 288.5h0M582.4 278.0h0M633.1 278.5h0M627.1 271.3h0M588.6 294.1h0M566.6 208.8h0M561.2 223.0h0M567.4 208.7h0M584.0 228.4h0M622.5 304.3h0M584.8 285.4h0M588.0 281.0h0M552.7 216.8h0M547.4 220.9h0M623.4 284.1h0M609.2 263.2h0M579.4 245.5h0M563.6 241.4h0M602.3 282.2h0M603.6 321.7h0M584.2 227.7h0M595.2 271.4h0M575.0 205.9h0M584.6 254.2h0M614.8 286.3h0M609.6 327.9h0M622.6 279.4h0M576.4 267.0h0M638.0 300.5h0M582.1 233.2h0M570.7 244.1h0M567.2 254.5h0M611.6 309.6h0M619.8 276.3h0M567.4 243.6h0M588.6 266.6h0M624.6 273.0h0M596.6 299.2h0M634.2 277.9h0M613.5 283.9h0M601.8 300.7h0M612.1 264.2h0M591.6 290.5h0M609.1 262.5h0M597.9 261.3h0M581.4 211.2h0M604.3 330.7h0M584.0 282.9h0M645.9 269.5h0M621.2 279.5h0M616.7 285.9h0M580.3 243.7h0M601.1 268.3h0M600.5 277.3h0M579.5 238.6h0M639.0 280.5h0M643.7 259.8h0M576.5 271.0h0M641.5 281.3h0M640.1 280.2h0M620.1 324.1h0M638.1 274.8h0M616.7 331.9h0M568.9 250.3h0M585.1 229.1h0M635.8 292.3h0M593.7 269.8h0M589.2 280.1h0M582.1 263.2h0M627.5 319.9h0M614.9 299.5h0M603.5 261.4h0M608.8 300.2h0M604.0 307.1h0M601.5 314.7h0M624.6 283.1h0M578.1 281.5h0M581.7 248.1h0M589.9 240.5h0M622.9 297.7h0M613.5 323.0h0M555.0 224.1h0M608.6 312.4h0M575.2 245.0h0M593.3 263.4h0M595.2 313.7h0M576.6 234.3h0M624.9 312.3h0M644.4 274.2h0M581.0 246.1h0M593.2 259.4h0M640.4 262.5h0M612.5 288.0h0M634.3 269.7h0M566.3 236.9h0M559.1 238.0h0M624.8 273.7h0M624.7 282.2h0M579.3 246.1h0M576.8 276.9h0M561.9 239.2h0M589.7 271.2h0M634.2 277.5h0M558.9 212.3h0M598.8 270.2h0M611.2 319.6h0M556.5 214.7h0M600.4 263.8h0M629.5 283.5h0M588.5 240.6h0M565.2 233.6h0M592.5 238.7h0M637.5 294.1h0M569.3 253.7h0M576.4 213.5h0M634.9 284.5h0M590.7 263.3h0M582.7 253.8h0M631.9 298.0h0M648.7 252.2h0M565.7 230.2h0M572.1 230.8h0M605.2 306.0h0M587.2 260.1h0M607.4 327.9h0M593.0 293.7h0M606.6 296.4h0M597.1 290.4h0M599.5 299.5h0M561.8 227.6h0M606.1 282.3h0M569.9 259.8h0M601.4 261.2h0M559.8 233.2h0M590.9 238.4h0M645.6 268.9h0M548.9 218.3h0M565.2 246.0h0M606.8 313.4h0M604.8 315.1h0M569.5 210.3h0M592.2 282.9h0M624.8 298.4h0M598.4 275.8h0M586.4 277.9h0M577.8 204.5h0M635.3 266.4h0M625.7 296.3h0M634.8 275.9h0M600.5 305.3h0M601.8 291.1h0M574.3 205.3h0M617.6 284.3h0M561.3 211.8h0M595.5 275.0h0M623.9 313.0h0M647.2 258.7h0M617.8 276.3h0M549.4 225.1h0M618.8 318.4h0M645.9 263.9h0M617.7 286.0h0M605.4 296.1h0M577.8 226.7h0M619.4 290.2h0M636.7 279.8h0M567.3 247.5h0M586.9 285.5h0M613.5 303.7h0M593.4 278.0h0M574.9 259.0h0M620.6 283.5h0M587.5 245.9h0M618.4 303.5h0M594.3 285.1h0M585.5 236.2h0M575.7 228.4h0M567.9 220.9h0M577.2 209.6h0M550.5 223.1h0M603.1 290.0h0M617.1 323.5h0M584.5 220.7h0M566.4 210.1h0M569.8 222.6h0M580.8 249.3h0M638.6 298.1h0M630.7 272.5h0M552.3 225.2h0M629.2 301.7h0M630.8 290.8h0M587.5 259.6h0M599.9 283.6h0M641.8 280.2h0M580.4 273.8h0M591.3 272.3h0M579.4 220.6h0M575.1 269.9h0M618.2 277.8h0M646.3 267.3h0M639.5 275.0h0M586.0 239.8h0M617.5 315.3h0M611.1 291.4h0M586.2 265.9h0M577.2 268.5h0M601.0 310.8h0M580.9 242.7h0M567.6 252.4h0M597.9 283.6h0M618.5 322.2h0M580.8 241.4h0M596.8 299.3h0M570.2 238.4h0M607.1 292.9h0M635.3 286.9h0M614.4 306.6h0M608.8 270.4h0M598.0 324.0h0M579.1 233.1h0M579.6 264.7h0M565.9 247.6h0M598.7 315.2h0M617.8 265.6h0M595.3 269.5h0M606.8 290.9h0M588.3 233.3h0M609.3 297.6h0M582.9 212.1h0M598.8 254.4h0M568.1 222.1h0M577.4 257.6h0M620.1 295.0h0M633.1 304.1h0M645.0 259.0h0M593.6 242.7h0M578.1 240.9h0M610.1 310.3h0M620.2 300.5h0M571.4 206.6h0M569.5 219.0h0M574.2 261.3h0M577.5 242.9h0M572.1 259.9h0M589.4 262.1h0M597.5 310.8h0M560.0 225.6h0M579.6 239.6h0M643.9 258.4h0M584.5 281.0h0M602.4 274.7h0M627.8 274.2h0M594.6 283.7h0M568.6 229.8h0M625.7 272.2h0M577.9 260.1h0M614.3 323.4h0M583.6 270.2h0M590.2 240.3h0M630.9 280.0h0M644.7 261.8h0M601.1 274.5h0M606.7 270.1h0M588.7 273.4h0M639.8 294.7h0M549.9 222.0h0M604.8 313.0h0M550.7 218.2h0M612.5 314.2h0M607.5 264.2h0M600.7 326.6h0M564.2 209.0h0M591.6 304.1h0M570.5 224.1h0M621.6 309.4h0M626.1 270.5h0M621.6 307.3h0M600.7 274.5h0M626.9 290.0h0M584.5 290.1h0M562.2 210.6h0M595.2 300.1h0M616.1 279.9h0M608.3 303.4h0M621.9 288.2h0M566.5 226.7h0M570.5 207.7h0M575.5 223.7h0M579.9 209.1h0M636.1 284.6h0M587.8 248.3h0M602.5 295.6h0M594.7 286.0h0M597.5 268.8h0M591.1 296.4h0M576.1 235.2h0M555.1 228.4h0M631.0 288.3h0M577.1 219.3h0M581.9 245.1h0M580.2 239.9h0M561.7 244.6h0M600.2 294.7h0M583.9 222.3h0M577.0 256.5h0M574.8 260.2h0M574.9 202.3h0M548.1 220.6h0M630.5 278.0h0M581.8 264.7h0M597.7 302.7h0M605.5 270.7h0M583.3 273.3h0M607.5 296.3h0M579.5 276.5h0M575.0 271.1h0M576.4 261.5h0M628.9 276.3h0M642.3 274.1h0M616.0 326.8h0M589.1 243.9h0M623.2 293.6h0M614.0 321.9h0M563.7 220.7h0M563.8 220.7h0M604.4 297.4h0M597.7 302.3h0M578.0 260.5h0M620.7 325.1h0M611.5 304.0h0M608.4 263.8h0M565.4 223.6h0M599.1 287.0h0M582.2 278.8h0M599.4 259.4h0M559.8 227.0h0M550.6 224.0h0M555.8 220.5h0M595.9 287.3h0M640.3 262.4h0M556.8 223.3h0M603.1 326.3h0M569.1 219.0h0M600.6 283.8h0M578.9 259.4h0M613.5 296.7h0M598.6 275.4h0M645.1 269.5h0M594.6 293.1h0M641.5 284.4h0M579.1 278.9h0M604.0 270.7h0M547.7 219.0h0M622.7 323.0h0M594.9 295.4h0M588.1 229.4h0M563.4 224.6h0M559.6 222.2h0M580.5 252.9h0M592.9 298.2h0M604.9 306.8h0M574.9 205.9h0M581.5 222.7h0M646.6 260.1h0M607.0 268.2h0M587.0 283.4h0M568.4 235.1h0M623.9 314.1h0M597.9 296.1h0M604.9 262.4h0M585.6 252.9h0M561.8 239.5h0M610.3 263.7h0M601.8 320.6h0M564.0 208.9h0M591.0 284.5h0M601.8 268.7h0M556.2 223.5h0M579.9 242.8h0M583.4 272.0h0M578.5 245.7h0M574.4 228.3h0M622.4 282.2h0M619.0 295.1h0M613.0 297.6h0M630.9 269.3h0M618.5 291.5h0M602.9 271.0h0M580.1 215.6h0M586.8 248.9h0M625.3 302.4h0M580.3 215.1h0M617.9 316.3h0M620.5 312.3h0M620.5 305.1h0M627.7 279.7h0M577.2 199.6h0M601.1 296.8h0M590.1 278.4h0M606.8 325.0h0M637.0 295.9h0M586.6 276.6h0M597.7 259.7h0M617.6 294.0h0M615.7 277.5h0M580.2 281.8h0M627.5 272.0h0M615.1 326.0h0M573.3 257.6h0M578.1 218.9h0M610.5 302.6h0M582.5 219.4h0M617.9 306.3h0M567.0 237.0h0M639.4 287.0h0M630.3 280.6h0M638.2 274.1h0M598.5 299.5h0M622.4 276.6h0M598.4 310.0h0M582.8 225.1h0M583.0 241.9h0M602.0 265.8h0M604.6 318.6h0M566.2 218.2h0M572.0 221.8h0M618.5 296.9h0M624.5 312.6h0M582.9 232.3h0M566.6 169.6h0M570.0 196.0h0M537.2 111.6h0M544.9 164.6h0M556.8 162.8h0M589.0 224.5h0M549.4 159.3h0M564.7 202.8h0M579.3 192.7h0M571.3 178.2h0M566.0 176.4h0M550.8 173.7h0M539.8 109.8h0M574.5 197.6h0M547.3 161.5h0M565.8 159.6h0M571.1 189.8h0M566.1 155.0h0M565.3 175.2h0M552.7 136.9h0M562.5 183.1h0M574.5 222.7h0M543.1 149.5h0M565.1 204.0h0M584.1 231.3h0M564.8 202.8h0M574.5 185.3h0M573.7 220.6h0M586.4 225.5h0M571.7 216.4h0M574.4 183.1h0M572.1 211.4h0M558.3 197.9h0M571.0 212.5h0M555.7 158.4h0M551.8 180.4h0M559.0 154.2h0M553.6 147.8h0M581.8 232.9h0M555.5 175.0h0M551.0 155.3h0M578.2 235.0h0M574.5 210.6h0M565.0 215.3h0M573.7 210.6h0M576.7 215.1h0M592.8 229.3h0M553.2 168.2h0M571.8 226.1h0M558.8 140.6h0M586.2 230.5h0M573.8 212.6h0M552.9 124.5h0M581.4 233.0h0M565.9 217.9h0M544.4 116.5h0M553.8 158.4h0M542.0 128.4h0M542.3 137.5h0M532.0 115.6h0M551.2 154.4h0M581.7 228.4h0M555.5 148.7h0M564.6 177.9h0M582.8 223.7h0M574.2 202.7h0M538.0 119.1h0M580.1 221.5h0M557.9 165.5h0M568.1 221.7h0M540.2 148.1h0M572.4 234.1h0M574.3 186.0h0M547.8 108.2h0M555.2 166.1h0M581.0 224.8h0M553.6 175.0h0M557.9 153.6h0M583.3 226.4h0M570.8 235.0h0M588.4 228.3h0M544.4 126.1h0M549.9 117.3h0M557.4 181.0h0M564.1 205.0h0M560.2 188.7h0M559.4 166.5h0M579.5 231.5h0M548.7 124.2h0M569.0 200.4h0M539.6 120.7h0M581.5 201.2h0M566.8 192.1h0M561.1 142.8h0M560.1 184.2h0M563.2 200.8h0M549.5 146.3h0M566.3 196.3h0M549.0 146.0h0M578.9 234.9h0M556.3 137.8h0M560.8 198.5h0M571.3 199.8h0M545.6 137.6h0M567.5 158.7h0M574.0 231.1h0M555.2 159.8h0M559.7 146.5h0M547.9 158.2h0M551.4 115.8h0M565.0 208.7h0M565.9 174.9h0M553.6 158.9h0M563.3 179.9h0M580.0 233.5h0M570.1 206.0h0M540.2 138.3h0M558.2 178.2h0M543.8 133.1h0M557.5 174.9h0M568.2 200.2h0M579.9 201.1h0M538.6 135.2h0M576.7 209.5h0M561.6 167.4h0M566.1 167.4h0M575.5 216.8h0M565.2 188.0h0M574.8 215.3h0M580.2 231.3h0M581.8 221.6h0M570.7 209.1h0M559.5 160.9h0M563.5 157.2h0M539.1 140.6h0M546.4 132.1h0M572.0 186.0h0M547.7 144.1h0M568.8 218.0h0M556.2 127.1h0M555.8 182.3h0M538.8 111.4h0M552.9 163.6h0M533.3 119.6h0M578.4 198.5h0M566.1 168.2h0M574.1 225.9h0M582.6 233.5h0M564.9 157.5h0M564.6 192.5h0M552.1 172.5h0M552.1 130.0h0M550.7 137.1h0M562.7 208.5h0M565.9 220.5h0M558.9 150.2h0M566.7 210.9h0M574.8 229.2h0M566.0 190.4h0M552.7 123.2h0M559.7 178.0h0M563.1 197.1h0M535.4 130.5h0M532.6 113.2h0M546.4 159.3h0M549.2 150.1h0M567.9 189.3h0M552.4 138.0h0M549.2 131.2h0M553.9 145.2h0M568.6 181.5h0M545.0 156.0h0M572.3 195.1h0M562.8 204.5h0M559.6 150.1h0M583.9 211.3h0M563.9 195.4h0M559.1 192.2h0M549.0 138.5h0M565.4 206.1h0M536.9 119.3h0M558.2 145.8h0M544.8 139.9h0M541.8 140.0h0M572.7 214.2h0M553.6 117.9h0M556.5 169.4h0M574.0 200.3h0M564.4 187.8h0M572.6 186.3h0M562.3 198.4h0M556.0 168.3h0M581.8 200.6h0M574.9 206.4h0M582.5 220.1h0M576.8 217.7h0M591.7 221.7h0M586.3 218.3h0M570.0 222.2h0M555.7 169.3h0M574.3 202.6h0M552.5 151.9h0M563.4 164.8h0M560.2 184.5h0M572.6 205.3h0M559.8 161.9h0M537.1 138.4h0M583.4 222.6h0M554.5 169.0h0M571.3 218.4h0M554.4 135.1h0M548.9 173.6h0M553.6 137.7h0M544.6 134.0h0M542.2 149.7h0M589.4 213.6h0M570.7 191.5h0M583.0 230.1h0M566.7 188.2h0M552.1 164.7h0M561.8 157.3h0M540.3 115.9h0M562.3 204.6h0M567.6 161.3h0M583.7 217.4h0M551.2 161.3h0M532.3 117.7h0M566.8 175.2h0M572.5 208.7h0M550.7 168.2h0M569.3 189.6h0M576.2 201.2h0M580.2 221.7h0M547.7 148.1h0M556.4 172.4h0M561.1 163.7h0M551.4 125.9h0M555.1 152.7h0M555.6 134.2h0M576.1 181.9h0M580.9 217.6h0M546.5 133.3h0M574.4 221.7h0M578.7 217.2h0M575.7 200.3h0M564.3 194.5h0M555.1 173.1h0M548.4 125.2h0M568.3 180.6h0M536.8 141.4h0M559.4 141.4h0M571.5 209.2h0M554.9 142.1h0M577.8 230.1h0M548.6 159.2h0M570.3 198.6h0M569.7 225.9h0M571.6 183.0h0M554.6 163.5h0M574.2 179.3h0M543.5 140.8h0M575.4 182.6h0M546.2 148.4h0M547.0 147.5h0M572.6 178.7h0M576.0 194.8h0M546.3 110.1h0M562.9 172.9h0M570.9 201.4h0M573.3 221.2h0M583.7 214.3h0M571.8 210.8h0M569.9 197.6h0M578.9 200.8h0M557.3 147.9h0M576.6 224.3h0M571.9 187.2h0M575.4 204.9h0M580.0 196.6h0M585.8 223.4h0M555.4 174.1h0M574.0 197.0h0M573.3 224.0h0M554.1 123.3h0M574.0 180.5h0M571.4 174.0h0M571.8 188.7h0M576.2 222.9h0M572.2 206.5h0M553.8 126.8h0M543.5 140.5h0M558.5 165.1h0M542.3 139.9h0M567.8 211.3h0M573.1 175.3h0M584.1 226.1h0M575.9 231.2h0M571.4 213.9h0M550.2 157.5h0M542.1 139.7h0M568.3 204.7h0M554.9 158.3h0M578.8 226.6h0M578.6 226.3h0M550.6 158.2h0M581.6 231.2h0M542.8 151.7h0M575.1 182.2h0M545.2 122.7h0M553.7 180.3h0M579.9 204.6h0M570.7 197.5h0M553.8 161.2h0M567.8 202.6h0M559.3 143.3h0M558.2 170.8h0M562.8 195.2h0M587.6 212.0h0M560.4 181.8h0M541.0 137.6h0M568.0 165.9h0M580.6 214.8h0M559.5 174.2h0M563.3 187.0h0M591.4 222.9h0M575.8 208.4h0M538.3 124.2h0M586.9 225.3h0M566.8 162.6h0M571.1 192.9h0M548.1 154.5h0M558.5 175.0h0M566.8 186.0h0M550.5 157.8h0M556.7 164.9h0M562.5 196.4h0M581.4 223.8h0M571.7 233.9h0M557.7 152.1h0M579.4 195.4h0M556.0 133.6h0M545.3 144.1h0M565.6 197.4h0M562.5 168.1h0M568.6 211.4h0M550.0 163.9h0M538.1 112.5h0M548.2 133.4h0M557.1 157.2h0M573.3 196.3h0M578.2 220.6h0M577.9 215.7h0M555.7 148.6h0M571.9 209.1h0M545.0 129.9h0M580.2 202.3h0M571.5 223.1h0M571.8 166.8h0M569.8 170.8h0M565.7 193.7h0M585.3 224.7h0M558.7 180.0h0M562.9 200.2h0M579.1 232.3h0M569.3 202.0h0M568.4 187.9h0M546.5 119.8h0M566.7 176.1h0M548.4 162.1h0M586.0 209.4h0M556.8 150.8h0M572.6 212.5h0M563.8 182.7h0M574.3 232.5h0M556.0 170.2h0M578.4 220.8h0M558.0 148.3h0M568.6 174.3h0M554.7 132.9h0M551.6 160.1h0M566.8 197.3h0M558.8 146.5h0M539.6 134.3h0M559.7 177.2h0M584.3 210.2h0M574.0 230.5h0M554.9 160.8h0M581.5 209.3h0M585.8 230.5h0M563.7 174.2h0M562.1 150.0h0M547.8 160.3h0M587.4 223.8h0M576.0 207.6h0M537.2 119.7h0M548.9 134.1h0M553.7 162.2h0M560.9 156.9h0M557.9 177.5h0M555.4 140.6h0M567.4 211.9h0M560.7 184.1h0M587.6 229.2h0M573.3 237.7h0M556.8 155.1h0M584.7 228.4h0M552.7 148.8h0M547.6 154.5h0M570.3 206.9h0M568.1 168.0h0M533.9 116.1h0M559.2 154.6h0M575.1 220.6h0M573.1 178.1h0M559.5 146.8h0M573.1 210.0h0M552.6 170.8h0M574.2 183.9h0M545.6 144.2h0M541.4 135.9h0M586.2 212.5h0M574.9 222.3h0M551.7 164.6h0M572.7 199.5h0M538.1 132.3h0M568.4 210.6h0M582.0 224.9h0M574.2 198.7h0M555.3 154.5h0M555.6 172.3h0M557.1 166.5h0M553.4 171.5h0M562.0 201.7h0M557.5 153.1h0M573.0 228.5h0M580.9 225.9h0M549.4 110.6h0M573.4 182.5h0M573.7 220.2h0M556.2 141.2h0M546.8 154.4h0M540.4 123.1h0M568.9 176.6h0M552.0 155.0h0M580.5 218.5h0M559.6 150.1h0M537.4 136.9h0M545.0 121.7h0M562.9 162.7h0M553.6 135.9h0M576.9 207.9h0M558.9 138.3h0M538.2 131.5h0M541.7 151.3h0M556.3 139.7h0M557.4 182.2h0M562.2 152.7h0M537.5 115.3h0M563.0 192.8h0M557.1 132.2h0M538.4 111.3h0M548.8 131.1h0M556.4 180.4h0M583.6 233.1h0M563.5 193.8h0M568.3 229.1h0M557.0 152.2h0M558.3 168.7h0M575.7 193.9h0M562.4 185.1h0M553.4 124.7h0M546.7 114.9h0M546.4 108.3h0M567.7 215.1h0M579.7 226.0h0M589.5 220.9h0M557.2 196.3h0M560.4 153.5h0M566.9 212.6h0M565.4 157.6h0M552.7 136.1h0M558.1 178.5h0M537.2 126.7h0M544.7 155.2h0M569.2 177.4h0M567.7 216.3h0M568.4 165.0h0M557.5 186.7h0M571.9 200.0h0M575.0 189.2h0M544.8 129.9h0M552.0 150.6h0M570.6 214.9h0M582.6 205.4h0M543.5 146.4h0M544.6 117.3h0M574.1 220.9h0M567.3 163.0h0M542.0 150.9h0M566.6 195.3h0M532.9 114.3h0M555.7 167.3h0M580.8 214.5h0M545.6 107.5h0M546.0 131.9h0M578.3 199.5h0M571.8 207.0h0M567.8 176.6h0M567.1 184.2h0M556.9 190.5h0M552.9 173.6h0M572.5 188.6h0M573.0 215.6h0M551.8 140.6h0M554.6 138.7h0M547.7 137.7h0M565.4 166.3h0M571.7 175.4h0M564.8 189.2h0M555.4 125.1h0M543.1 110.4h0M548.5 133.5h0M572.3 229.1h0M557.9 135.2h0M575.5 187.1h0M574.2 215.3h0M569.0 179.4h0M586.0 223.0h0M557.4 150.4h0M558.7 185.7h0M569.9 201.0h0M575.6 213.0h0M574.0 237.2h0M542.1 110.2h0M561.7 199.2h0M535.8 111.1h0M559.0 157.5h0M559.2 143.3h0M545.7 113.4h0M559.5 196.4h0M574.2 211.1h0M556.1 197.7h0M540.3 136.2h0M589.6 227.4h0M585.5 215.5h0M572.7 179.4h0M546.1 131.6h0M565.0 150.0h0M567.6 217.6h0M581.4 230.4h0M581.7 215.8h0M565.1 181.8h0M561.1 165.6h0M565.4 182.4h0M561.7 201.8h0M556.3 133.0h0M572.4 196.5h0M572.5 198.6h0M540.4 119.7h0M537.3 111.3h0M557.8 132.0h0M568.7 188.8h0M584.5 221.1h0M568.8 214.0h0M539.0 136.9h0M582.4 219.3h0M568.2 167.5h0M572.9 236.0h0M542.1 118.2h0M558.2 193.2h0M570.7 210.1h0M585.3 206.8h0M573.6 196.0h0M557.1 190.6h0M531.0 112.5h0M568.2 215.5h0M555.9 153.2h0M546.3 125.4h0M561.4 192.3h0M549.1 111.6h0M551.4 130.5h0M537.3 113.9h0M549.8 134.6h0M561.5 144.9h0M564.7 177.3h0M570.0 190.1h0M551.3 167.1h0M545.9 118.0h0M570.3 207.2h0M540.3 134.0h0M547.4 153.4h0M592.0 226.3h0M560.8 158.4h0M572.7 227.7h0M561.2 146.7h0M544.7 115.5h0M539.2 133.0h0M557.0 146.1h0M558.8 150.8h0M577.2 215.7h0M583.2 217.6h0M538.0 134.1h0M578.6 186.9h0M580.3 204.0h0M572.3 203.4h0M574.4 202.2h0M565.8 177.7h0M562.1 186.2h0M562.2 196.4h0M566.1 192.3h0M573.1 173.6h0M556.6 127.3h0M564.0 167.0h0M550.0 158.2h0M578.5 224.8h0M555.5 176.4h0M593.3 225.8h0M545.0 131.0h0M541.4 143.7h0M560.3 153.6h0M567.3 199.4h0M569.9 200.7h0M575.8 197.5h0M560.9 150.4h0M557.0 146.2h0M567.6 216.5h0M548.9 123.7h0M583.5 205.1h0M532.5 114.4h0M569.0 191.4h0M569.4 198.8h0M567.6 214.8h0M550.7 143.1h0M551.0 155.4h0M567.3 158.6h0M555.5 179.2h0M547.3 133.5h0M576.8 196.5h0M575.8 192.5h0M561.4 192.4h0M579.6 202.9h0M577.3 192.4h0M560.5 191.6h0M582.0 232.4h0M558.7 142.5h0M567.6 205.8h0M562.8 165.7h0M549.6 143.7h0M550.4 162.7h0M571.8 191.6h0M585.0 223.7h0M558.4 184.1h0M556.9 169.8h0M544.8 140.8h0M577.5 226.5h0M536.3 127.4h0M569.9 205.1h0M557.5 186.3h0M569.0 172.3h0M538.9 130.5h0M573.5 223.4h0M580.4 204.2h0M545.4 148.6h0M572.2 223.0h0M573.7 182.0h0M554.0 188.9h0M572.4 196.5h0M557.9 190.5h0M538.0 127.4h0M570.2 171.9h0M560.8 196.4h0M582.1 228.7h0M588.1 219.6h0M541.5 115.2h0M557.9 189.8h0M552.0 164.3h0M555.3 154.6h0M572.8 173.1h0M540.1 135.5h0M588.2 222.5h0M579.8 202.6h0M559.0 163.9h0M582.8 212.7h0M550.5 145.6h0M578.5 228.6h0M573.9 179.7h0M568.5 196.5h0M575.0 220.5h0M570.8 227.0h0M556.9 139.4h0M567.4 190.3h0M561.3 158.2h0M577.8 234.4h0M563.3 186.3h0M544.6 149.1h0M579.6 204.2h0M588.7 217.8h0M580.2 200.9h0M569.6 207.5h0M569.4 188.1h0M554.7 129.8h0M573.1 214.6h0M583.9 228.9h0M578.1 199.2h0M572.0 200.4h0M571.8 186.8h0M558.0 190.2h0M576.0 225.9h0M549.0 153.2h0M548.8 160.0h0M564.3 193.5h0M557.2 150.5h0M568.6 231.2h0M577.5 233.4h0M541.7 127.8h0M580.0 231.9h0M539.2 122.5h0M569.3 183.3h0M586.0 213.2h0M573.7 230.5h0M579.5 207.7h0M568.0 187.0h0M550.8 134.5h0M545.3 124.0h0M550.3 167.2h0M585.5 220.6h0M571.3 218.0h0M564.3 216.3h0M563.4 149.1h0M561.9 167.7h0M573.0 199.0h0M546.4 160.1h0M567.4 201.7h0M565.1 176.5h0M575.1 209.1h0M555.0 132.5h0M582.0 223.9h0M568.4 196.5h0M571.6 199.6h0M549.4 169.6h0M552.8 159.2h0M553.8 140.8h0M564.4 155.5h0M561.0 183.6h0M577.2 226.2h0M546.2 152.5h0M558.7 146.1h0M565.8 172.5h0M551.4 144.8h0M553.7 131.6h0M545.0 150.3h0M556.3 176.2h0M574.5 184.9h0M542.4 122.2h0M578.0 230.6h0M565.3 208.2h0M580.9 218.7h0M550.9 140.4h0M549.9 151.5h0M548.3 141.4h0M562.5 184.1h0M566.6 194.0h0M574.7 219.5h0M563.0 188.3h0M557.2 147.5h0M548.4 136.7h0M579.4 232.5h0M560.0 151.8h0M556.3 165.4h0M560.4 172.8h0M571.3 211.1h0M565.6 184.1h0M581.2 218.0h0M583.2 225.2h0M558.5 167.3h0M579.3 233.4h0M559.0 153.9h0M568.5 189.4h0M562.1 167.6h0M577.9 234.0h0M571.6 205.9h0M567.5 196.7h0M551.4 132.4h0M583.2 216.3h0M560.9 175.0h0M565.5 177.6h0M555.7 141.9h0M577.7 225.3h0M555.3 144.2h0M560.2 163.8h0M565.6 193.8h0M573.3 189.5h0M573.5 195.4h0M560.6 167.3h0M569.2 200.9h0M554.9 146.6h0M583.7 229.6h0M577.7 215.3h0M552.4 130.6h0M578.1 212.4h0M580.9 219.6h0M572.3 209.1h0M571.5 191.3h0M558.4 146.3h0M585.2 233.0h0M551.1 139.6h0M559.6 171.2h0M556.9 135.5h0M559.7 158.9h0M571.2 186.0h0M555.7 142.1h0M579.1 215.6h0M579.1 206.2h0M555.9 145.5h0M557.4 167.4h0M566.0 182.6h0M557.1 145.3h0M555.3 155.8h0M568.7 192.0h0M580.1 217.6h0M563.9 192.0h0M565.3 193.1h0M573.1 197.4h0M581.2 219.3h0M560.7 156.7h0M554.3 144.0h0M576.8 232.6h0M546.5 138.2h0M577.3 222.2h0M577.5 204.8h0M577.3 226.7h0M562.2 161.8h0M575.2 223.5h0M567.5 183.3h0M554.4 153.2h0M554.2 143.3h0M551.3 129.2h0M555.0 152.8h0M547.9 132.3h0M556.3 147.5h0M571.1 210.2h0M550.0 131.1h0M580.0 216.5h0M580.6 225.9h0M559.2 165.9h0M568.1 186.4h0M576.2 204.3h0M575.1 216.0h0M564.0 184.9h0M546.4 133.2h0M574.6 224.7h0M579.4 231.9h0M576.0 200.6h0M555.0 171.7h0M555.3 146.7h0M557.2 165.7h0M574.5 197.5h0M560.0 176.6h0M562.1 180.1h0M555.0 150.6h0M580.7 224.8h0M571.9 208.0h0M556.3 160.7h0M568.9 180.8h0M573.5 209.4h0M564.2 181.0h0M556.5 144.9h0M562.9 179.7h0M575.9 198.2h0M577.4 213.0h0M573.1 210.2h0M550.3 137.7h0M579.0 214.3h0M558.7 150.0h0M582.2 229.0h0M569.0 188.7h0M576.5 207.8h0M560.8 164.6h0M579.2 228.3h0M555.8 158.2h0M566.0 171.1h0M583.9 231.6h0M552.3 141.6h0M554.5 157.5h0M555.2 142.3h0M575.4 214.2h0M566.2 196.0h0M576.0 227.7h0M568.3 190.1h0M577.0 200.0h0M568.0 186.5h0M569.3 208.2h0M552.4 133.5h0M557.6 164.1h0M561.4 183.4h0M554.4 136.8h0M551.9 141.4h0M573.6 212.8h0M579.2 230.4h0M561.9 171.8h0M582.6 224.1h0M579.5 224.3h0M553.1 150.4h0M572.6 200.8h0M563.0 163.2h0M568.1 198.3h0M553.2 150.9h0M562.1 156.7h0M557.2 164.1h0M574.5 205.3h0M558.1 151.0h0M566.4 170.8h0M554.8 149.7h0M578.0 222.0h0M579.9 209.4h0M572.0 207.3h0M578.9 207.3h0M547.9 140.8h0M575.3 223.0h0M569.8 191.7h0M581.6 230.8h0M548.0 136.5h0M556.7 147.0h0M552.8 142.4h0M564.9 194.1h0M572.2 212.0h0M575.5 213.4h0M571.7 201.1h0M577.0 223.1h0M571.8 189.9h0M563.3 176.2h0M576.6 220.3h0M568.6 193.1h0M576.6 205.5h0M562.1 172.7h0M578.2 232.0h0M579.0 206.2h0M552.9 129.7h0M555.0 142.6h0M545.9 130.0h0M562.0 178.9h0M559.2 157.9h0M546.1 130.7h0M571.0 184.3h0M561.0 166.8h0M551.3 127.7h0M548.8 133.8h0M578.5 211.2h0M563.8 178.5h0M559.1 151.0h0M563.6 176.4h0M552.7 144.3h0M562.5 170.3h0M559.1 155.4h0M555.8 139.5h0M553.2 146.2h0M556.6 143.8h0M555.0 135.6h0M550.4 141.0h0M563.5 177.7h0M573.3 207.7h0M573.8 218.0h0M563.4 176.5h0M570.6 184.8h0M554.9 151.3h0M554.6 147.2h0M560.9 159.7h0M571.2 197.5h0M566.8 181.9h0M559.9 154.0h0M562.2 167.8h0M547.6 129.3h0M579.7 226.9h0M574.6 202.6h0M557.7 142.4h0M580.7 211.7h0M587.1 232.1h0M564.6 194.9h0M575.0 205.2h0M568.7 181.6h0M563.0 186.4h0M566.1 196.7h0M560.4 168.6h0M582.1 225.5h0M575.7 209.3h0M571.1 204.3h0M556.9 147.2h0M564.1 183.7h0M570.5 198.4h0M577.6 198.5h0M578.7 228.3h0M568.6 185.3h0M547.6 133.2h0M580.7 232.6h0M585.2 224.6h0M565.9 179.7h0M553.9 137.5h0M575.3 218.2h0M586.5 233.0h0M561.3 156.1h0M557.4 141.8h0M557.6 146.4h0M558.0 162.7h0M548.6 139.5h0M564.6 168.7h0M569.5 181.9h0M554.4 126.4h0M554.0 152.1h0M560.8 175.7h0M578.1 210.2h0M553.1 129.1h0M582.3 221.0h0M582.4 232.7h0M559.2 142.9h0M562.7 169.3h0M556.3 146.7h0M576.5 204.3h0M570.0 182.4h0M566.0 179.4h0M548.6 129.8h0M554.0 159.5h0M552.7 155.9h0M562.2 172.1h0M560.6 151.5h0M575.0 218.6h0M577.8 224.9h0M547.3 135.4h0M574.2 219.9h0M568.6 198.9h0M550.4 154.5h0M567.5 187.0h0M553.9 140.2h0M559.9 186.7h0M560.0 178.7h0M568.9 204.5h0M568.2 204.9h0M578.6 212.4h0M558.0 154.5h0M559.0 153.1h0M581.4 215.7h0M545.5 131.9h0M568.1 189.2h0M549.5 140.4h0M573.6 193.1h0M549.5 130.0h0M549.5 129.5h0M564.3 175.8h0M553.5 159.0h0M577.4 224.7h0M581.2 227.2h0M577.2 201.9h0M552.4 143.7h0M584.6 220.8h0M573.5 221.0h0M552.5 133.8h0M577.5 219.1h0M559.3 168.8h0M579.0 228.8h0M565.5 191.0h0M538.4 119.7h0M528.1 110.3h0M537.3 122.1h0M534.1 130.0h0M533.3 126.6h0M529.5 115.9h0M535.6 126.8h0M532.0 114.3h0M538.5 127.8h0M528.7 108.5h0M530.7 107.6h0M529.2 109.3h0M530.7 116.7h0M539.0 130.7h0M535.4 118.1h0M530.7 121.4h0M532.0 119.5h0M526.8 114.1h0M531.4 123.4h0M536.8 129.4h0M534.6 115.8h0M532.9 116.8h0M551.4 231.9h0M533.4 201.9h0M558.3 230.2h0M560.3 221.8h0M555.0 239.1h0M535.1 175.3h0M552.7 207.8h0M559.4 230.7h0M555.8 217.4h0M557.5 240.0h0M554.6 238.1h0M534.5 179.1h0M530.7 185.2h0M553.3 228.3h0M560.2 229.5h0M546.7 212.4h0M528.4 181.2h0M545.9 201.9h0M556.2 223.7h0M555.0 215.8h0M551.3 210.4h0M540.8 202.6h0M563.8 220.6h0M549.8 228.2h0M536.4 206.5h0M552.8 220.5h0M543.9 196.9h0M525.6 170.6h0M559.0 235.0h0M545.1 216.5h0M533.3 187.2h0M560.3 225.6h0M535.0 190.2h0M566.5 225.9h0M527.9 182.6h0M542.3 208.4h0M539.8 190.0h0M544.9 207.7h0M533.0 179.8h0M555.7 237.6h0M538.0 193.0h0M549.4 226.0h0M552.6 212.9h0M546.1 217.2h0M553.9 239.9h0M560.7 228.0h0M558.7 215.9h0M547.9 218.1h0M557.3 224.0h0M528.7 176.0h0M543.0 189.8h0M560.2 233.1h0M567.3 227.4h0M540.0 187.8h0M538.7 207.3h0M549.2 228.7h0M560.8 221.3h0M541.4 191.8h0M554.6 223.8h0M537.9 187.1h0M552.9 214.8h0M548.1 209.7h0M564.0 234.4h0M564.4 229.9h0M534.3 193.5h0M554.3 229.1h0M566.2 229.2h0M541.4 192.2h0M553.0 230.3h0M557.3 220.5h0M544.9 209.6h0M555.5 212.5h0M548.4 221.9h0M539.4 193.0h0M564.7 231.9h0M555.6 209.0h0M553.5 210.6h0M553.0 224.0h0M555.3 221.6h0M539.5 202.5h0M538.9 210.2h0M536.2 194.2h0M555.7 213.9h0M536.4 193.2h0M549.8 227.1h0M547.5 222.7h0M549.4 216.9h0M548.8 201.0h0M537.0 201.5h0M547.4 204.7h0M562.4 234.2h0M552.3 229.2h0M536.4 202.9h0M544.2 199.0h0M537.8 188.0h0M547.9 203.0h0M539.2 210.5h0M548.7 211.5h0M532.3 178.7h0M538.1 202.4h0M541.0 200.0h0M550.1 221.8h0M526.2 174.3h0M542.9 195.2h0M533.1 170.2h0M531.9 175.9h0M550.3 202.4h0M535.3 184.8h0M534.6 179.9h0M558.5 220.5h0M538.1 192.7h0M550.8 199.6h0M548.9 219.5h0M545.5 204.5h0M564.0 226.2h0M541.3 198.6h0M559.3 236.0h0M536.2 188.0h0M536.8 181.4h0M552.5 209.5h0M561.1 217.9h0M563.3 226.6h0M531.6 175.4h0M542.7 201.8h0M550.4 202.1h0M548.4 205.8h0M531.7 186.0h0M530.0 175.2h0M560.8 228.3h0M561.9 221.8h0M532.7 175.0h0M546.9 224.8h0M553.0 212.5h0M540.8 203.3h0M532.0 189.6h0M532.5 190.4h0M557.3 226.1h0M549.8 230.5h0M529.7 193.7h0M554.4 236.7h0M540.0 179.8h0M559.9 233.7h0M549.6 227.0h0M536.4 208.6h0M543.6 218.9h0M543.8 198.7h0M532.1 188.2h0M552.0 208.2h0M552.5 214.2h0M553.3 214.1h0M565.0 230.2h0M542.0 197.4h0M546.1 195.7h0M562.1 235.8h0M552.1 228.5h0M548.5 217.5h0M543.5 215.3h0M536.2 188.1h0M563.0 236.6h0M552.1 224.1h0M547.2 219.9h0M561.5 230.5h0M543.5 215.8h0M555.0 227.0h0M542.8 221.4h0M534.7 199.5h0M545.6 221.8h0M546.0 194.7h0M548.0 202.2h0M556.5 215.4h0M547.0 210.0h0M532.1 191.9h0M550.6 204.3h0M545.4 211.4h0M553.8 210.2h0M558.1 223.9h0M556.5 223.5h0M527.5 176.8h0M548.3 208.2h0M554.4 230.3h0M552.9 237.8h0M548.5 221.7h0M538.9 188.6h0M534.8 185.7h0M534.7 186.4h0M529.5 181.4h0M555.8 227.0h0M554.8 234.7h0M552.2 223.1h0M548.1 208.9h0M539.3 195.4h0M541.9 201.0h0M562.4 234.7h0M560.9 229.3h0M560.4 235.9h0M552.7 227.0h0M526.9 173.0h0M523.0 176.3h0M561.3 227.5h0M544.2 197.6h0M555.0 218.3h0M551.3 215.5h0M564.0 233.4h0M550.8 224.7h0M554.6 237.6h0M551.9 225.0h0M552.4 228.7h0M546.9 223.6h0M526.5 183.7h0M560.8 231.7h0M528.9 186.7h0M570.3 233.6h0M538.4 195.1h0M543.3 210.9h0M543.7 216.2h0M542.7 210.7h0M540.9 189.4h0M556.8 211.8h0M543.3 211.3h0M552.3 233.1h0M542.4 190.5h0M528.2 176.2h0M556.3 223.9h0M552.5 240.1h0M538.9 197.5h0M540.0 210.8h0M541.7 214.9h0M540.1 208.1h0M549.9 207.9h0M551.2 214.9h0M549.5 232.4h0M531.0 186.9h0M540.2 203.5h0M540.0 193.1h0M526.5 172.5h0M562.4 225.2h0M555.5 235.6h0M560.8 223.8h0M535.4 186.2h0M569.0 233.2h0M548.1 205.5h0M539.1 202.9h0M539.0 202.1h0M533.4 198.5h0M539.1 200.8h0M533.5 172.4h0M547.0 212.5h0M561.2 220.6h0M550.6 213.3h0M546.4 221.7h0M540.8 194.6h0M545.6 215.8h0M544.1 198.6h0M545.3 198.5h0M536.9 190.3h0M551.1 210.7h0M566.1 231.1h0M551.5 230.5h0M534.6 182.4h0M559.4 229.0h0M544.5 208.8h0M560.6 223.7h0M548.9 207.8h0M562.6 229.3h0M556.4 215.1h0M546.6 203.4h0M550.6 203.2h0M548.4 225.1h0M527.3 181.8h0M523.9 182.6h0M544.4 197.3h0M533.0 190.5h0M540.3 201.7h0M552.4 205.3h0M560.1 220.6h0M536.3 194.8h0M554.4 219.7h0M550.7 205.9h0M539.3 190.0h0M555.2 224.0h0M557.8 220.5h0M543.7 209.4h0M556.2 234.5h0M560.5 224.2h0M544.5 211.0h0M534.5 193.5h0M554.9 219.4h0M527.0 174.1h0M557.7 239.4h0M550.4 220.8h0M542.6 212.2h0M563.5 233.0h0M557.4 222.3h0M544.7 218.9h0M547.8 223.2h0M535.1 196.3h0M556.4 233.9h0M555.9 225.8h0M540.5 207.4h0M540.4 202.3h0M555.9 227.0h0M529.9 184.1h0M544.0 198.6h0M533.7 174.8h0M526.8 175.6h0M537.5 194.7h0M539.5 190.3h0M563.6 231.2h0M531.0 180.1h0M522.2 170.3h0M557.4 230.6h0M548.0 201.4h0M545.5 228.9h0M543.2 209.8h0M545.9 200.7h0M546.5 220.2h0M540.5 204.3h0M555.2 207.0h0M550.5 235.5h0M553.1 212.7h0M530.1 188.6h0M530.7 176.2h0M554.3 234.1h0M549.3 214.5h0M547.0 196.7h0M530.0 187.2h0M563.3 230.1h0M549.9 225.1h0M527.4 181.6h0M541.6 210.6h0M560.3 222.1h0M531.6 180.7h0M545.0 195.7h0M526.5 174.8h0M551.7 215.7h0M533.7 186.7h0M556.4 234.2h0M540.1 196.8h0M540.2 198.3h0M535.3 195.9h0M560.9 233.2h0M553.5 223.7h0M538.7 177.4h0M552.4 206.5h0M552.8 213.7h0M555.4 227.4h0M556.4 224.5h0M558.7 216.3h0M541.5 202.8h0M530.7 191.1h0M546.8 208.1h0M561.2 227.5h0M536.5 183.9h0M535.6 195.3h0M551.4 220.9h0M550.1 228.7h0M549.3 202.8h0M565.6 230.0h0M550.1 211.6h0M550.3 206.5h0M534.8 176.1h0M538.3 193.2h0M560.5 229.0h0M551.0 240.1h0M552.0 239.7h0M538.7 192.9h0M543.3 209.1h0M530.3 181.5h0M558.5 238.6h0M545.7 216.8h0M536.9 190.1h0M543.8 211.4h0M553.1 231.2h0M547.8 218.6h0M566.3 234.6h0M533.7 199.0h0M537.0 191.2h0M559.0 229.2h0M561.5 232.1h0M553.5 210.7h0M535.8 187.6h0M553.7 217.2h0M552.9 210.4h0M529.7 180.7h0M555.5 217.9h0M548.7 225.6h0M545.9 207.1h0M548.7 225.8h0M528.8 185.2h0M564.8 230.1h0M553.0 230.2h0M554.0 212.0h0M531.7 192.6h0M553.2 234.6h0M547.9 205.5h0M547.0 215.5h0M534.3 185.9h0M553.4 237.6h0M550.6 227.3h0M533.0 179.6h0M522.0 168.4h0M536.8 213.9h0M556.8 231.0h0M554.8 209.7h0M567.8 227.8h0M555.8 228.0h0M532.4 169.3h0M565.2 225.0h0M551.3 203.3h0M555.4 238.2h0M552.7 210.5h0M555.0 221.4h0M545.6 215.3h0M559.6 232.3h0M552.9 220.9h0M553.4 220.0h0M545.9 190.9h0M541.6 209.6h0M561.2 231.5h0M548.3 217.6h0M535.3 188.5h0M540.3 190.9h0M535.9 190.4h0M548.6 224.3h0M542.1 198.9h0M545.0 204.8h0M532.4 183.3h0M554.2 232.7h0M550.2 227.9h0M535.0 179.6h0M567.7 228.4h0M553.8 196.5h0M571.3 227.9h0M567.5 228.5h0M562.7 210.9h0M564.2 219.4h0M549.7 182.8h0M554.2 191.9h0M563.5 210.8h0M564.3 219.8h0M559.7 217.0h0M563.0 225.7h0M567.6 229.8h0M566.2 229.2h0M559.1 208.7h0M560.2 208.7h0M565.0 225.2h0M565.9 222.8h0M550.7 183.6h0M564.9 218.3h0M562.2 222.1h0M563.7 228.4h0M562.3 214.4h0M566.0 228.3h0M560.8 220.4h0M547.7 185.2h0M558.8 211.5h0M563.1 226.9h0M552.5 200.3h0M553.0 181.3h0M563.2 223.5h0M566.0 220.4h0M548.8 178.9h0M565.4 218.4h0M559.4 213.3h0M558.3 211.8h0M547.9 186.6h0M562.8 218.1h0M567.6 226.1h0M565.1 216.6h0M567.2 228.6h0M561.9 218.8h0M566.6 224.3h0M561.8 220.2h0M567.0 225.5h0M563.4 215.1h0M550.7 189.8h0M569.4 228.2h0M561.3 218.3h0M564.5 228.1h0M565.4 222.4h0M568.2 229.6h0M562.0 213.3h0M563.0 229.1h0M557.9 203.5h0M567.1 220.9h0M556.9 204.9h0M565.0 219.6h0M564.2 227.2h0M553.7 199.4h0M555.9 191.2h0M556.5 192.1h0M567.2 226.9h0M554.9 196.4h0M549.4 186.1h0M553.8 203.7h0M557.9 203.7h0M566.2 223.4h0M565.0 221.3h0M559.3 210.7h0M539.9 78.0h0M542.3 86.2h0M560.4 91.0h0M560.9 94.5h0M535.0 94.5h0M536.8 96.8h0M516.3 100.8h0M522.7 102.3h0M528.6 100.4h0M531.4 99.2h0M549.8 101.6h0M558.0 101.6h0M555.0 108.0h0M559.2 109.8h0M564.4 118.8h0M568.2 133.4h0M567.5 139.3h0M564.0 141.0h0M531.0 134.6h0M528.1 121.1h0M526.2 112.2h0M518.0 148.7h0M522.7 149.9h0M519.2 152.7h0M515.6 157.0h0M573.4 152.7h0M522.7 163.6h0M593.4 163.6h0M582.8 176.6h0M578.0 177.7h0M596.4 199.6h0M606.3 219.4h0M585.0 202.4h0M586.5 209.5h0M596.8 198.8h0M606.8 218.9h0M656.6 194.9h0M661.3 201.0h0M659.0 209.8h0M656.6 212.8h0M656.6 219.2h0M652.4 222.7h0M649.5 225.6h0M646.0 227.0h0M656.6 235.2h0M650.7 233.3h0M643.6 233.3h0M653.0 247.5h0M651.4 254.6h0M649.5 260.5h0M647.2 272.3h0M636.7 239.7h0M631.0 256.7h0M642.1 237.2h0M636.3 255.7h0M633.3 255.3h0M642.7 234.0h0M641.1 237.4h0M635.4 253.2h0M641.7 236.9h0M640.1 241.7h0M634.2 262.0h0M638.6 253.3h0M633.2 255.1h0M640.8 245.9h0M629.1 262.4h0M630.9 262.9h0M635.4 253.3h0M639.9 236.1h0M632.8 263.9h0M641.0 246.9h0M644.3 234.9h0M642.3 235.2h0M645.4 232.5h0M637.9 246.6h0M627.6 258.2h0M633.6 259.0h0M645.1 240.8h0M629.6 262.2h0M636.2 249.0h0M643.8 235.7h0M644.9 232.3h0M633.9 258.4h0M637.0 244.4h0M639.0 244.9h0M630.9 260.3h0M644.2 234.3h0M635.4 246.9h0M630.3 259.1h0M632.0 259.3h0M635.6 249.2h0M644.6 230.9h0M636.8 249.0h0M633.8 250.6h0M635.1 248.4h0M640.2 240.7h0M641.2 238.2h0M639.2 244.3h0M639.0 240.1h0M640.7 236.9h0M643.5 233.5h0M641.4 238.4h0M631.6 255.4h0M645.8 235.5h0M630.3 260.0h0M640.2 243.5h0M631.8 263.0h0M644.0 230.8h0M632.5 258.9h0M640.7 238.4h0M636.0 248.7h0M632.8 263.6h0M643.5 237.9h0M638.8 243.2h0M636.0 255.4h0M638.0 242.3h0M637.1 245.0h0M633.3 255.9h0M638.4 248.3h0M639.0 242.5h0M640.4 244.0h0M634.5 297.3h0M638.8 295.8h0M643.2 255.8h0M638.4 291.3h0M649.8 236.9h0M647.2 248.5h0M643.7 269.8h0M635.7 296.2h0M639.7 276.4h0M639.1 285.0h0M635.7 293.9h0M647.2 237.7h0M645.7 245.9h0M640.1 280.0h0M640.6 279.7h0M635.7 293.1h0M640.5 254.8h0M640.1 277.4h0M632.7 294.1h0M635.8 284.5h0M641.5 270.7h0M645.6 243.3h0M650.7 237.4h0M644.8 244.6h0M643.8 270.2h0M640.7 259.4h0M645.4 255.3h0M640.2 268.3h0M650.9 234.4h0M640.9 278.6h0M639.4 282.1h0M642.4 255.3h0M642.1 274.2h0M642.5 255.2h0M649.3 236.9h0M646.6 244.0h0M646.6 242.8h0M649.6 241.5h0M645.0 266.6h0M637.6 287.0h0M646.2 245.2h0M635.7 291.8h0M642.1 255.4h0M639.2 273.4h0M641.9 256.9h0M639.1 293.2h0M638.6 285.6h0M642.5 271.2h0M646.4 250.5h0M649.2 236.6h0M635.7 293.3h0M642.7 271.5h0M639.0 281.3h0M633.1 294.1h0M634.3 293.8h0M639.8 281.4h0M636.9 284.0h0M640.8 266.3h0M641.4 259.3h0M644.4 255.9h0M646.2 243.1h0M638.7 277.9h0M636.9 287.7h0M636.9 284.0h0M634.8 297.3h0M648.9 247.7h0M645.8 252.0h0M643.0 252.8h0M643.3 267.0h0M650.4 235.5h0M639.5 284.8h0M649.6 237.3h0M642.8 261.6h0M644.0 276.9h0M646.4 245.5h0M644.3 264.2h0M642.4 268.7h0M635.2 293.3h0M641.1 268.2h0M644.7 259.9h0M641.2 260.7h0M647.6 245.5h0M650.0 239.9h0M649.8 234.1h0M639.3 283.0h0M645.0 255.5h0M637.8 273.8h0M645.6 264.9h0M648.4 234.8h0M647.5 245.1h0M635.5 294.6h0M647.1 238.6h0M634.2 293.7h0M650.8 241.1h0M647.3 249.0h0M633.8 290.3h0M637.2 291.5h0M644.5 260.6h0M649.5 237.9h0M635.2 284.8h0M636.7 297.2h0M641.9 275.5h0M641.3 261.6h0M634.9 294.2h0M642.2 265.2h0M642.4 272.3h0M640.2 268.8h0M647.1 244.8h0M647.4 252.9h0M632.3 296.6h0M641.4 278.8h0M644.5 269.2h0M649.5 242.2h0M637.7 283.0h0M636.2 288.9h0M639.0 291.0h0M649.6 239.9h0M643.0 260.8h0M645.8 246.4h0M638.8 280.3h0M643.1 257.6h0M639.6 283.9h0M642.3 259.6h0M640.4 274.3h0M639.5 265.5h0M651.8 236.9h0M645.0 245.3h0M645.5 250.7h0M650.0 244.3h0M650.9 236.1h0M635.9 293.3h0M644.8 246.2h0M642.3 268.2h0M633.6 298.2h0M638.3 292.1h0M646.6 248.5h0M645.5 250.7h0M645.0 248.1h0M637.1 293.7h0M640.4 273.5h0M651.0 237.1h0M644.8 252.0h0M646.5 253.2h0M635.4 287.4h0M650.8 236.5h0M647.4 244.6h0M644.8 254.7h0M649.4 238.3h0M642.0 283.3h0M646.9 241.9h0M645.0 234.8h0M641.7 247.6h0M641.0 246.3h0M646.0 238.7h0M637.6 264.3h0M644.0 244.5h0M637.5 267.1h0M644.9 238.1h0M645.7 238.4h0M641.9 246.0h0M635.9 267.7h0M645.1 238.0h0M638.0 267.0h0M641.7 257.8h0M639.1 261.5h0M641.0 250.1h0M637.7 267.9h0M646.0 234.2h0M641.6 258.2h0M644.9 238.5h0M638.3 258.0h0M646.4 234.9h0M641.8 247.3h0M644.5 241.8h0M641.9 244.2h0M640.7 245.8h0M635.5 267.2h0M637.9 254.4h0M638.4 260.0h0M642.8 241.3h0M638.8 261.1h0M638.0 262.4h0M644.2 244.5h0M639.8 247.0h0M632.9 270.0h0M638.7 263.0h0M643.3 242.6h0M642.6 249.8h0M645.0 239.9h0M639.1 252.6h0M641.8 246.7h0M638.4 255.1h0M638.4 254.7h0M641.4 247.3h0M646.9 237.7h0M643.8 244.5h0M646.4 238.7h0M646.2 234.0h0M640.2 254.7h0M639.5 267.5h0M643.8 243.7h0M640.3 252.4h0M640.0 249.9h0M639.9 251.4h0M646.6 233.5h0M645.9 235.5h0M639.1 261.3h0M648.0 236.6h0M640.1 262.2h0M647.0 240.9h0M613.5 258.4h0M597.1 257.6h0M600.0 259.5h0M628.1 260.7h0M608.1 261.7h0M626.9 259.1h0M598.3 256.8h0M619.5 262.2h0M624.8 258.4h0M610.8 262.3h0M610.8 263.1h0M598.3 256.5h0M633.2 252.8h0M607.3 262.5h0M624.0 261.0h0M598.1 258.2h0M612.7 263.1h0M617.0 261.1h0M627.2 258.1h0M612.7 263.1h0M633.3 253.4h0M631.2 255.1h0M607.8 260.0h0M618.6 259.4h0M606.4 259.9h0M602.1 255.1h0M598.6 259.1h0M606.6 258.6h0M603.4 256.2h0M615.6 263.7h0M612.7 263.9h0M622.1 260.9h0M603.5 263.5h0M634.3 255.3h0M627.9 257.0h0M604.4 260.2h0M611.2 261.1h0M626.0 259.2h0M613.7 262.3h0M630.4 252.9h0M622.1 261.0h0M596.4 257.6h0M620.8 263.9h0M603.9 262.1h0M627.9 262.0h0M605.0 259.0h0M631.7 252.5h0M624.3 259.7h0M614.4 261.4h0M624.4 262.0h0M630.2 256.5h0M604.5 255.9h0M632.0 251.4h0M610.6 261.0h0M605.0 259.6h0M611.3 261.2h0M624.2 262.2h0M633.7 256.5h0M630.8 257.5h0M617.7 263.2h0M603.8 258.4h0M599.3 253.5h0M622.5 260.3h0M601.6 260.6h0M611.4 262.8h0M613.3 263.5h0M632.8 254.6h0M612.4 259.8h0M617.4 263.6h0M619.8 260.0h0M630.5 256.1h0M629.1 256.5h0M607.3 261.5h0M605.9 259.0h0M619.6 257.9h0M603.0 261.1h0M626.2 259.5h0M629.9 257.6h0M624.2 259.8h0M618.9 261.1h0M610.8 264.4h0M633.1 257.7h0M617.7 262.7h0M606.2 263.8h0M629.8 258.3h0M606.2 262.9h0M627.3 258.9h0M631.6 254.6h0M622.6 261.7h0M630.9 257.1h0M609.1 265.9h0M606.7 257.4h0M623.3 259.9h0M600.4 254.7h0M608.5 262.9h0M626.9 258.7h0M618.1 260.5h0M628.0 261.8h0M622.3 259.2h0M609.6 261.5h0M626.8 259.9h0M606.6 259.6h0M599.0 254.7h0M600.2 258.3h0M616.0 262.6h0M614.7 263.2h0M616.5 260.4h0M625.5 258.0h0M629.2 259.2h0M598.6 257.1h0M616.7 261.8h0M632.7 253.3h0M612.8 261.8h0M602.1 258.3h0M632.1 258.6h0M610.8 262.4h0M611.9 262.9h0M597.0 254.4h0M625.0 258.7h0M622.1 261.7h0"/>
<path class="ax" d="M506.0 27.0V377.5H682.0"/>
<path class="tc" d="M506.0 326.2h-3.2M506.0 255.7h-3.2M506.0 185.2h-3.2M506.0 114.7h-3.2M506.0 44.2h-3.2M529.8 377.5v2.3M582.4 377.5v2.3M635.1 377.5v2.3"/>
<text class="tk" transform="translate(501.2 332.1) scale(1 0.990)" text-anchor="end">20</text>
<text class="tk" transform="translate(501.2 261.6) scale(1 0.990)" text-anchor="end">30</text>
<text class="tk" transform="translate(501.2 191.1) scale(1 0.990)" text-anchor="end">40</text>
<text class="tk" transform="translate(501.2 120.6) scale(1 0.990)" text-anchor="end">50</text>
<text class="tk" transform="translate(501.2 50.1) scale(1 0.990)" text-anchor="end">60</text>
<text class="tk" transform="translate(529.2 394.4) scale(1 0.990)" text-anchor="middle">200</text>
<text class="tk" transform="translate(581.8 394.4) scale(1 0.990)" text-anchor="middle">400</text>
<text class="tk" transform="translate(634.5 394.4) scale(1 0.990)" text-anchor="middle">600</text>
<text class="lb" style="font-size:17.30px" transform="translate(592.9 19.8) scale(1 1.066)" text-anchor="middle">Abu Dhabi (UAE)</text>
<text class="lb" transform="translate(593.5 414.75) scale(1 1.060)" text-anchor="middle">Posterior mean</text>
<text class="lb yl" transform="translate(478.1 202.4) rotate(-90) scale(1 1.060)" text-anchor="middle">Posterior SD</text>
</svg>
</body>
</html>
